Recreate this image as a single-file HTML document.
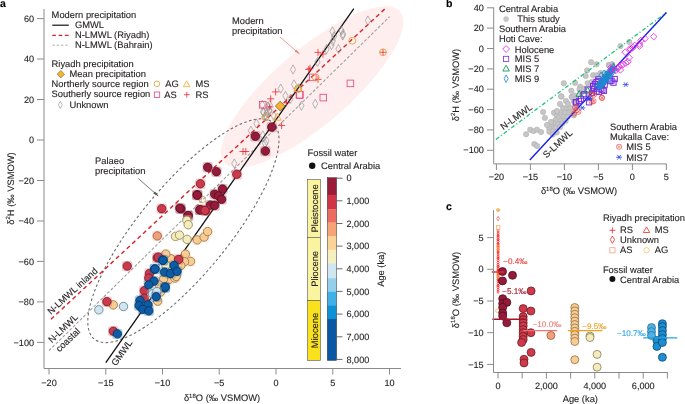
<!DOCTYPE html><html><head><meta charset="utf-8"><style>html,body{margin:0;padding:0;background:#fff;}svg{display:block;will-change:transform;}</style></head><body><svg width="685" height="404" viewBox="0 0 685 404" font-family="Liberation Sans, sans-serif" text-rendering="geometricPrecision">
<rect width="685" height="404" fill="#fff"/>
<ellipse cx="312.2" cy="86.9" rx="115.9" ry="37.6" transform="rotate(-40.7 312.2 86.9)" fill="#feeeee"/>
<ellipse cx="183.4" cy="230.7" rx="140.3" ry="44.4" transform="rotate(-50.5 183.4 230.7)" fill="none" stroke="#6d6d6d" stroke-width="1.1" stroke-dasharray="2.6 2.4"/>
<line x1="49" y1="350.6" x2="389.6" y2="16.7" stroke="#a0a0a0" stroke-width="1.1" stroke-dasharray="3 1.8"/>
<line x1="50.9" y1="319.3" x2="385.3" y2="8.5" stroke="#dd1f26" stroke-width="1.4" stroke-dasharray="4.2 3.2"/>
<line x1="105.8" y1="362.6" x2="353.8" y2="8.6" stroke="#111" stroke-width="1.3"/>
<path d="M367.9 15.9L370.5 20.5L367.9 25.1L365.3 20.5Z" fill="none" stroke="#8a8a8a" stroke-width="0.6"/>
<path d="M343.0 29.4L345.6 34.0L343.0 38.6L340.4 34.0Z" fill="none" stroke="#8a8a8a" stroke-width="0.6"/>
<path d="M341.5 25.9L344.1 30.5L341.5 35.1L338.9 30.5Z" fill="none" stroke="#8a8a8a" stroke-width="0.6"/>
<path d="M332.5 26.9L335.1 31.5L332.5 36.1L329.9 31.5Z" fill="none" stroke="#8a8a8a" stroke-width="0.6"/>
<path d="M334.1 31.5L336.7 36.1L334.1 40.7L331.5 36.1Z" fill="none" stroke="#8a8a8a" stroke-width="0.6"/>
<path d="M332.8 36.4L335.4 41.0L332.8 45.6L330.2 41.0Z" fill="none" stroke="#8a8a8a" stroke-width="0.6"/>
<path d="M331.5 40.4L334.1 45.0L331.5 49.6L328.9 45.0Z" fill="none" stroke="#8a8a8a" stroke-width="0.6"/>
<path d="M338.4 44.4L341.0 49.0L338.4 53.6L335.8 49.0Z" fill="none" stroke="#8a8a8a" stroke-width="0.6"/>
<path d="M326.6 44.4L329.2 49.0L326.6 53.6L324.0 49.0Z" fill="none" stroke="#8a8a8a" stroke-width="0.6"/>
<path d="M317.5 57.4L320.1 62.0L317.5 66.6L314.9 62.0Z" fill="none" stroke="#8a8a8a" stroke-width="0.6"/>
<path d="M293.0 64.9L295.6 69.5L293.0 74.1L290.4 69.5Z" fill="none" stroke="#8a8a8a" stroke-width="0.6"/>
<path d="M294.0 79.8L296.6 84.4L294.0 89.0L291.4 84.4Z" fill="none" stroke="#8a8a8a" stroke-width="0.6"/>
<path d="M298.9 83.7L301.5 88.3L298.9 92.9L296.3 88.3Z" fill="none" stroke="#8a8a8a" stroke-width="0.6"/>
<path d="M280.7 84.0L283.3 88.6L280.7 93.2L278.1 88.6Z" fill="none" stroke="#8a8a8a" stroke-width="0.6"/>
<path d="M285.5 91.2L288.1 95.8L285.5 100.4L282.9 95.8Z" fill="none" stroke="#8a8a8a" stroke-width="0.6"/>
<path d="M290.5 94.2L293.1 98.8L290.5 103.4L287.9 98.8Z" fill="none" stroke="#8a8a8a" stroke-width="0.6"/>
<path d="M301.4 101.1L304.0 105.7L301.4 110.3L298.8 105.7Z" fill="none" stroke="#8a8a8a" stroke-width="0.6"/>
<path d="M315.2 99.2L317.8 103.8L315.2 108.4L312.6 103.8Z" fill="none" stroke="#8a8a8a" stroke-width="0.6"/>
<path d="M267.7 102.1L270.3 106.7L267.7 111.3L265.1 106.7Z" fill="none" stroke="#8a8a8a" stroke-width="0.6"/>
<path d="M269.7 106.1L272.3 110.7L269.7 115.3L267.1 110.7Z" fill="none" stroke="#8a8a8a" stroke-width="0.6"/>
<path d="M263.8 108.1L266.4 112.7L263.8 117.3L261.2 112.7Z" fill="none" stroke="#8a8a8a" stroke-width="0.6"/>
<path d="M266.7 112.0L269.3 116.6L266.7 121.2L264.1 116.6Z" fill="none" stroke="#8a8a8a" stroke-width="0.6"/>
<path d="M256.4 118.9L259.0 123.5L256.4 128.1L253.8 123.5Z" fill="none" stroke="#8a8a8a" stroke-width="0.6"/>
<path d="M250.9 126.1L253.5 130.7L250.9 135.3L248.3 130.7Z" fill="none" stroke="#8a8a8a" stroke-width="0.6"/>
<path d="M262.8 130.8L265.4 135.4L262.8 140.0L260.2 135.4Z" fill="none" stroke="#8a8a8a" stroke-width="0.6"/>
<path d="M266.5 136.4L269.1 141.0L266.5 145.6L263.9 141.0Z" fill="none" stroke="#8a8a8a" stroke-width="0.6"/>
<path d="M265.0 138.9L267.6 143.5L265.0 148.1L262.4 143.5Z" fill="none" stroke="#8a8a8a" stroke-width="0.6"/>
<path d="M234.3 158.9L236.9 163.5L234.3 168.1L231.7 163.5Z" fill="none" stroke="#8a8a8a" stroke-width="0.6"/>
<path d="M342.7 30.9L345.3 35.5L342.7 40.1L340.1 35.5Z" fill="none" stroke="#8a8a8a" stroke-width="0.6"/>
<path d="M262.4 100.3L265.0 104.9L262.4 109.5L259.8 104.9Z" fill="none" stroke="#8a8a8a" stroke-width="0.6"/>
<path d="M269.8 100.3L272.4 104.9L269.8 109.5L267.2 104.9Z" fill="none" stroke="#8a8a8a" stroke-width="0.6"/>
<path d="M262.9 107.2L265.5 111.8L262.9 116.4L260.3 111.8Z" fill="none" stroke="#8a8a8a" stroke-width="0.6"/>
<path d="M266.8 108.2L269.4 112.8L266.8 117.4L264.2 112.8Z" fill="none" stroke="#8a8a8a" stroke-width="0.6"/>
<path d="M269.3 105.3L271.9 109.9L269.3 114.5L266.7 109.9Z" fill="none" stroke="#8a8a8a" stroke-width="0.6"/>
<path d="M264.9 112.2L267.5 116.8L264.9 121.4L262.3 116.8Z" fill="none" stroke="#8a8a8a" stroke-width="0.6"/>
<path d="M273.8 111.2L276.4 115.8L273.8 120.4L271.2 115.8Z" fill="none" stroke="#8a8a8a" stroke-width="0.6"/>
<path d="M314.5 52.4H321.5M318.0 48.9V55.9" stroke="#ee2a2e" stroke-width="0.8" fill="none"/>
<path d="M319.4 54.0H326.4M322.9 50.5V57.5" stroke="#ee2a2e" stroke-width="0.8" fill="none"/>
<path d="M305.3 69.5H312.3M308.8 66.0V73.0" stroke="#ee2a2e" stroke-width="0.8" fill="none"/>
<path d="M314.5 79.4H321.5M318.0 75.9V82.9" stroke="#ee2a2e" stroke-width="0.8" fill="none"/>
<path d="M272.1 91.9H279.1M275.6 88.4V95.4" stroke="#ee2a2e" stroke-width="0.8" fill="none"/>
<path d="M267.2 98.8H274.2M270.7 95.3V102.3" stroke="#ee2a2e" stroke-width="0.8" fill="none"/>
<path d="M283.0 102.8H290.0M286.5 99.3V106.3" stroke="#ee2a2e" stroke-width="0.8" fill="none"/>
<path d="M278.1 125.5H285.1M281.6 122.0V129.0" stroke="#ee2a2e" stroke-width="0.8" fill="none"/>
<path d="M239.5 151.5H246.5M243.0 148.0V155.0" stroke="#ee2a2e" stroke-width="0.8" fill="none"/>
<path d="M242.3 151.5H249.3M245.8 148.0V155.0" stroke="#ee2a2e" stroke-width="0.8" fill="none"/>
<path d="M306.5 68.3H313.5M310.0 64.8V71.8" stroke="#ee2a2e" stroke-width="0.8" fill="none"/>
<path d="M379.5 52.3H386.5M383.0 48.8V55.8" stroke="#ee2a2e" stroke-width="0.8" fill="none"/>
<path d="M266.3 106.9H273.3M269.8 103.4V110.4" stroke="#ee2a2e" stroke-width="0.8" fill="none"/>
<rect x="309.5" y="74.1" width="6.6" height="6.6" fill="none" stroke="#e8407e" stroke-width="0.8"/>
<rect x="347.1" y="80.1" width="6.6" height="6.6" fill="none" stroke="#e8407e" stroke-width="0.8"/>
<rect x="320.0" y="94.3" width="6.6" height="6.6" fill="none" stroke="#e8407e" stroke-width="0.8"/>
<rect x="296.6" y="91.6" width="6.6" height="6.6" fill="none" stroke="#e8407e" stroke-width="0.8"/>
<rect x="259.5" y="101.5" width="6.6" height="6.6" fill="none" stroke="#e8407e" stroke-width="0.8"/>
<rect x="296.1" y="91.6" width="6.6" height="6.6" fill="none" stroke="#e8407e" stroke-width="0.8"/>
<circle cx="352.3" cy="40.8" r="3.4" fill="none" stroke="#d8a030" stroke-width="0.8"/>
<circle cx="315.7" cy="77.4" r="3.4" fill="none" stroke="#d8a030" stroke-width="0.8"/>
<circle cx="265.3" cy="117.2" r="3.4" fill="none" stroke="#d8a030" stroke-width="0.8"/>
<circle cx="383.0" cy="52.3" r="3.4" fill="none" stroke="#d8a030" stroke-width="0.8"/>
<circle cx="298.0" cy="89.0" r="3.4" fill="none" stroke="#d8a030" stroke-width="0.8"/>
<circle cx="202.2" cy="199.4" r="3.4" fill="none" stroke="#d8a030" stroke-width="0.8"/>
<path d="M297.9 84.3L301.9 91.3L293.9 91.3Z" fill="none" stroke="#f5a623" stroke-width="0.8"/>
<path d="M277.2 113.2L281.2 120.2L273.2 120.2Z" fill="none" stroke="#f5a623" stroke-width="0.8"/>
<path d="M280.2 101.3L285.1 106.1L280.2 110.9L275.3 106.1Z" fill="#f4b535" stroke="#5a4010" stroke-width="0.6"/>
<rect x="152.1" y="230.7" width="10.4" height="10.4" rx="2.6" fill="#f2a07a" fill-opacity="0.28"/>
<circle cx="157.3" cy="235.9" r="4.2" fill="#f2a07a" stroke="#8a5535" stroke-width="0.75"/>
<rect x="170.3" y="231.2" width="10.4" height="10.4" rx="2.6" fill="#f4ecbd" fill-opacity="0.28"/>
<circle cx="175.5" cy="236.4" r="4.2" fill="#f4ecbd" stroke="#7f7852" stroke-width="0.75"/>
<rect x="174.3" y="229.9" width="10.4" height="10.4" rx="2.6" fill="#f4ecbd" fill-opacity="0.28"/>
<circle cx="179.5" cy="235.1" r="4.2" fill="#f4ecbd" stroke="#7f7852" stroke-width="0.75"/>
<rect x="181.9" y="234.2" width="10.4" height="10.4" rx="2.6" fill="#f4ecbd" fill-opacity="0.28"/>
<circle cx="187.1" cy="239.4" r="4.2" fill="#f4ecbd" stroke="#7f7852" stroke-width="0.75"/>
<rect x="192.0" y="234.7" width="10.4" height="10.4" rx="2.6" fill="#f8cc92" fill-opacity="0.28"/>
<circle cx="197.2" cy="239.9" r="4.2" fill="#f8cc92" stroke="#8d6c42" stroke-width="0.75"/>
<rect x="198.9" y="231.9" width="10.4" height="10.4" rx="2.6" fill="#f8cc92" fill-opacity="0.28"/>
<circle cx="204.1" cy="237.1" r="4.2" fill="#f8cc92" stroke="#8d6c42" stroke-width="0.75"/>
<rect x="202.4" y="226.4" width="10.4" height="10.4" rx="2.6" fill="#f8cc92" fill-opacity="0.28"/>
<circle cx="207.6" cy="231.6" r="4.2" fill="#f8cc92" stroke="#8d6c42" stroke-width="0.75"/>
<rect x="180.2" y="248.9" width="10.4" height="10.4" rx="2.6" fill="#f8cc92" fill-opacity="0.28"/>
<circle cx="185.4" cy="254.1" r="4.2" fill="#f8cc92" stroke="#8d6c42" stroke-width="0.75"/>
<rect x="185.3" y="256.2" width="10.4" height="10.4" rx="2.6" fill="#f8cc92" fill-opacity="0.28"/>
<circle cx="190.5" cy="261.4" r="4.2" fill="#f8cc92" stroke="#8d6c42" stroke-width="0.75"/>
<rect x="179.3" y="256.5" width="10.4" height="10.4" rx="2.6" fill="#f8cc92" fill-opacity="0.28"/>
<circle cx="184.5" cy="261.7" r="4.2" fill="#f8cc92" stroke="#8d6c42" stroke-width="0.75"/>
<rect x="175.6" y="260.3" width="10.4" height="10.4" rx="2.6" fill="#f8cc92" fill-opacity="0.28"/>
<circle cx="180.8" cy="265.5" r="4.2" fill="#f8cc92" stroke="#8d6c42" stroke-width="0.75"/>
<rect x="165.9" y="253.6" width="10.4" height="10.4" rx="2.6" fill="#f8cc92" fill-opacity="0.28"/>
<circle cx="171.1" cy="258.8" r="4.2" fill="#f8cc92" stroke="#8d6c42" stroke-width="0.75"/>
<rect x="160.6" y="248.9" width="10.4" height="10.4" rx="2.6" fill="#f8cc92" fill-opacity="0.28"/>
<circle cx="165.8" cy="254.1" r="4.2" fill="#f8cc92" stroke="#8d6c42" stroke-width="0.75"/>
<rect x="160.8" y="260.3" width="10.4" height="10.4" rx="2.6" fill="#f4ecbd" fill-opacity="0.28"/>
<circle cx="166.0" cy="265.5" r="4.2" fill="#f4ecbd" stroke="#7f7852" stroke-width="0.75"/>
<rect x="163.7" y="274.4" width="10.4" height="10.4" rx="2.6" fill="#f8cc92" fill-opacity="0.28"/>
<circle cx="168.9" cy="279.6" r="4.2" fill="#f8cc92" stroke="#8d6c42" stroke-width="0.75"/>
<rect x="169.7" y="272.9" width="10.4" height="10.4" rx="2.6" fill="#f8cc92" fill-opacity="0.28"/>
<circle cx="174.9" cy="278.1" r="4.2" fill="#f8cc92" stroke="#8d6c42" stroke-width="0.75"/>
<rect x="171.0" y="271.2" width="10.4" height="10.4" rx="2.6" fill="#f8cc92" fill-opacity="0.28"/>
<circle cx="176.2" cy="276.4" r="4.2" fill="#f8cc92" stroke="#8d6c42" stroke-width="0.75"/>
<rect x="158.4" y="273.7" width="10.4" height="10.4" rx="2.6" fill="#f8cc92" fill-opacity="0.28"/>
<circle cx="163.6" cy="278.9" r="4.2" fill="#f8cc92" stroke="#8d6c42" stroke-width="0.75"/>
<rect x="154.0" y="279.7" width="10.4" height="10.4" rx="2.6" fill="#f8cc92" fill-opacity="0.28"/>
<circle cx="159.2" cy="284.9" r="4.2" fill="#f8cc92" stroke="#8d6c42" stroke-width="0.75"/>
<rect x="155.4" y="286.8" width="10.4" height="10.4" rx="2.6" fill="#f8cc92" fill-opacity="0.28"/>
<circle cx="160.6" cy="292.0" r="4.2" fill="#f8cc92" stroke="#8d6c42" stroke-width="0.75"/>
<rect x="152.5" y="296.0" width="10.4" height="10.4" rx="2.6" fill="#f8cc92" fill-opacity="0.28"/>
<circle cx="157.7" cy="301.2" r="4.2" fill="#f8cc92" stroke="#8d6c42" stroke-width="0.75"/>
<rect x="108.1" y="299.7" width="10.4" height="10.4" rx="2.6" fill="#f8cc92" fill-opacity="0.28"/>
<circle cx="113.3" cy="304.9" r="4.2" fill="#f8cc92" stroke="#8d6c42" stroke-width="0.75"/>
<rect x="266.6" y="121.9" width="10.4" height="10.4" rx="2.6" fill="#961a3a" fill-opacity="0.28"/>
<circle cx="271.8" cy="127.1" r="4.2" fill="#961a3a" stroke="#4b0e1c" stroke-width="0.75"/>
<rect x="250.2" y="131.1" width="10.4" height="10.4" rx="2.6" fill="#961a3a" fill-opacity="0.28"/>
<circle cx="255.4" cy="136.3" r="4.2" fill="#961a3a" stroke="#4b0e1c" stroke-width="0.75"/>
<rect x="260.1" y="145.9" width="10.4" height="10.4" rx="2.6" fill="#961a3a" fill-opacity="0.28"/>
<circle cx="265.3" cy="151.1" r="4.2" fill="#961a3a" stroke="#4b0e1c" stroke-width="0.75"/>
<rect x="202.5" y="162.1" width="10.4" height="10.4" rx="2.6" fill="#961a3a" fill-opacity="0.28"/>
<circle cx="207.7" cy="167.3" r="4.2" fill="#961a3a" stroke="#4b0e1c" stroke-width="0.75"/>
<rect x="211.2" y="166.5" width="10.4" height="10.4" rx="2.6" fill="#961a3a" fill-opacity="0.28"/>
<circle cx="216.4" cy="171.7" r="4.2" fill="#961a3a" stroke="#4b0e1c" stroke-width="0.75"/>
<rect x="231.6" y="169.1" width="10.4" height="10.4" rx="2.6" fill="#cd3a4b" fill-opacity="0.28"/>
<circle cx="236.8" cy="174.3" r="4.2" fill="#cd3a4b" stroke="#6b1722" stroke-width="0.75"/>
<rect x="195.2" y="178.6" width="10.4" height="10.4" rx="2.6" fill="#cd3a4b" fill-opacity="0.28"/>
<circle cx="200.4" cy="183.8" r="4.2" fill="#cd3a4b" stroke="#6b1722" stroke-width="0.75"/>
<rect x="192.1" y="189.5" width="10.4" height="10.4" rx="2.6" fill="#961a3a" fill-opacity="0.28"/>
<circle cx="197.3" cy="194.7" r="4.2" fill="#961a3a" stroke="#4b0e1c" stroke-width="0.75"/>
<rect x="217.3" y="183.8" width="10.4" height="10.4" rx="2.6" fill="#961a3a" fill-opacity="0.28"/>
<circle cx="222.5" cy="189.0" r="4.2" fill="#961a3a" stroke="#4b0e1c" stroke-width="0.75"/>
<rect x="209.5" y="189.0" width="10.4" height="10.4" rx="2.6" fill="#961a3a" fill-opacity="0.28"/>
<circle cx="214.7" cy="194.2" r="4.2" fill="#961a3a" stroke="#4b0e1c" stroke-width="0.75"/>
<rect x="213.3" y="190.7" width="10.4" height="10.4" rx="2.6" fill="#961a3a" fill-opacity="0.28"/>
<circle cx="218.5" cy="195.9" r="4.2" fill="#961a3a" stroke="#4b0e1c" stroke-width="0.75"/>
<rect x="216.4" y="194.2" width="10.4" height="10.4" rx="2.6" fill="#961a3a" fill-opacity="0.28"/>
<circle cx="221.6" cy="199.4" r="4.2" fill="#961a3a" stroke="#4b0e1c" stroke-width="0.75"/>
<rect x="205.1" y="199.9" width="10.4" height="10.4" rx="2.6" fill="#961a3a" fill-opacity="0.28"/>
<circle cx="210.3" cy="205.1" r="4.2" fill="#961a3a" stroke="#4b0e1c" stroke-width="0.75"/>
<rect x="209.5" y="200.3" width="10.4" height="10.4" rx="2.6" fill="#961a3a" fill-opacity="0.28"/>
<circle cx="214.7" cy="205.5" r="4.2" fill="#961a3a" stroke="#4b0e1c" stroke-width="0.75"/>
<rect x="195.2" y="204.6" width="10.4" height="10.4" rx="2.6" fill="#961a3a" fill-opacity="0.28"/>
<circle cx="200.4" cy="209.8" r="4.2" fill="#961a3a" stroke="#4b0e1c" stroke-width="0.75"/>
<rect x="200.4" y="205.5" width="10.4" height="10.4" rx="2.6" fill="#cd3a4b" fill-opacity="0.28"/>
<circle cx="205.6" cy="210.7" r="4.2" fill="#cd3a4b" stroke="#6b1722" stroke-width="0.75"/>
<rect x="192.0" y="190.0" width="10.4" height="10.4" rx="2.6" fill="#961a3a" fill-opacity="0.28"/>
<circle cx="197.2" cy="195.2" r="4.2" fill="#961a3a" stroke="#4b0e1c" stroke-width="0.75"/>
<rect x="194.6" y="204.7" width="10.4" height="10.4" rx="2.6" fill="#961a3a" fill-opacity="0.28"/>
<circle cx="199.8" cy="209.9" r="4.2" fill="#961a3a" stroke="#4b0e1c" stroke-width="0.75"/>
<rect x="199.8" y="205.3" width="10.4" height="10.4" rx="2.6" fill="#cd3a4b" fill-opacity="0.28"/>
<circle cx="205.0" cy="210.5" r="4.2" fill="#cd3a4b" stroke="#6b1722" stroke-width="0.75"/>
<rect x="175.7" y="203.7" width="10.4" height="10.4" rx="2.6" fill="#961a3a" fill-opacity="0.28"/>
<circle cx="180.9" cy="208.9" r="4.2" fill="#961a3a" stroke="#4b0e1c" stroke-width="0.75"/>
<rect x="182.6" y="210.7" width="10.4" height="10.4" rx="2.6" fill="#961a3a" fill-opacity="0.28"/>
<circle cx="187.8" cy="215.9" r="4.2" fill="#961a3a" stroke="#4b0e1c" stroke-width="0.75"/>
<rect x="156.5" y="203.5" width="10.4" height="10.4" rx="2.6" fill="#cd3a4b" fill-opacity="0.28"/>
<circle cx="161.7" cy="208.7" r="4.2" fill="#cd3a4b" stroke="#6b1722" stroke-width="0.75"/>
<rect x="174.7" y="203.0" width="10.4" height="10.4" rx="2.6" fill="#961a3a" fill-opacity="0.28"/>
<circle cx="179.9" cy="208.2" r="4.2" fill="#961a3a" stroke="#4b0e1c" stroke-width="0.75"/>
<rect x="183.0" y="210.4" width="10.4" height="10.4" rx="2.6" fill="#961a3a" fill-opacity="0.28"/>
<circle cx="188.2" cy="215.6" r="4.2" fill="#961a3a" stroke="#4b0e1c" stroke-width="0.75"/>
<rect x="122.0" y="260.9" width="10.4" height="10.4" rx="2.6" fill="#cd3a4b" fill-opacity="0.28"/>
<circle cx="127.2" cy="266.1" r="4.2" fill="#cd3a4b" stroke="#6b1722" stroke-width="0.75"/>
<rect x="152.0" y="252.7" width="10.4" height="10.4" rx="2.6" fill="#cd3a4b" fill-opacity="0.28"/>
<circle cx="157.2" cy="257.9" r="4.2" fill="#cd3a4b" stroke="#6b1722" stroke-width="0.75"/>
<rect x="153.2" y="251.9" width="10.4" height="10.4" rx="2.6" fill="#cd3a4b" fill-opacity="0.28"/>
<circle cx="158.4" cy="257.1" r="4.2" fill="#cd3a4b" stroke="#6b1722" stroke-width="0.75"/>
<rect x="173.4" y="254.3" width="10.4" height="10.4" rx="2.6" fill="#cd3a4b" fill-opacity="0.28"/>
<circle cx="178.6" cy="259.5" r="4.2" fill="#cd3a4b" stroke="#6b1722" stroke-width="0.75"/>
<rect x="144.3" y="268.2" width="10.4" height="10.4" rx="2.6" fill="#cd3a4b" fill-opacity="0.28"/>
<circle cx="149.5" cy="273.4" r="4.2" fill="#cd3a4b" stroke="#6b1722" stroke-width="0.75"/>
<rect x="143.6" y="273.0" width="10.4" height="10.4" rx="2.6" fill="#cd3a4b" fill-opacity="0.28"/>
<circle cx="148.8" cy="278.2" r="4.2" fill="#cd3a4b" stroke="#6b1722" stroke-width="0.75"/>
<rect x="139.1" y="285.6" width="10.4" height="10.4" rx="2.6" fill="#cd3a4b" fill-opacity="0.28"/>
<circle cx="144.3" cy="290.8" r="4.2" fill="#cd3a4b" stroke="#6b1722" stroke-width="0.75"/>
<rect x="139.1" y="293.0" width="10.4" height="10.4" rx="2.6" fill="#cd3a4b" fill-opacity="0.28"/>
<circle cx="144.3" cy="298.2" r="4.2" fill="#cd3a4b" stroke="#6b1722" stroke-width="0.75"/>
<rect x="101.7" y="296.5" width="10.4" height="10.4" rx="2.6" fill="#cd3a4b" fill-opacity="0.28"/>
<circle cx="106.9" cy="301.7" r="4.2" fill="#cd3a4b" stroke="#6b1722" stroke-width="0.75"/>
<rect x="108.1" y="326.0" width="10.4" height="10.4" rx="2.6" fill="#cd3a4b" fill-opacity="0.28"/>
<circle cx="113.3" cy="331.2" r="4.2" fill="#cd3a4b" stroke="#6b1722" stroke-width="0.75"/>
<rect x="181.6" y="215.1" width="10.4" height="10.4" rx="2.6" fill="#f4ecbd" fill-opacity="0.28"/>
<circle cx="186.8" cy="220.3" r="4.2" fill="#f4ecbd" stroke="#7f7852" stroke-width="0.75"/>
<rect x="183.0" y="219.5" width="10.4" height="10.4" rx="2.6" fill="#f4ecbd" fill-opacity="0.28"/>
<circle cx="188.2" cy="224.7" r="4.2" fill="#f4ecbd" stroke="#7f7852" stroke-width="0.75"/>
<rect x="157.6" y="254.9" width="10.4" height="10.4" rx="2.6" fill="#0c5ca7" fill-opacity="0.28"/>
<circle cx="162.8" cy="260.1" r="4.2" fill="#0c5ca7" stroke="#062d52" stroke-width="0.75"/>
<rect x="157.8" y="255.1" width="10.4" height="10.4" rx="2.6" fill="#0c5ca7" fill-opacity="0.28"/>
<circle cx="163.0" cy="260.3" r="4.2" fill="#0c5ca7" stroke="#062d52" stroke-width="0.75"/>
<rect x="168.9" y="260.3" width="10.4" height="10.4" rx="2.6" fill="#0c5ca7" fill-opacity="0.28"/>
<circle cx="174.1" cy="265.5" r="4.2" fill="#0c5ca7" stroke="#062d52" stroke-width="0.75"/>
<rect x="159.3" y="266.9" width="10.4" height="10.4" rx="2.6" fill="#0c5ca7" fill-opacity="0.28"/>
<circle cx="164.5" cy="272.1" r="4.2" fill="#0c5ca7" stroke="#062d52" stroke-width="0.75"/>
<rect x="165.2" y="268.4" width="10.4" height="10.4" rx="2.6" fill="#0c5ca7" fill-opacity="0.28"/>
<circle cx="170.4" cy="273.6" r="4.2" fill="#0c5ca7" stroke="#062d52" stroke-width="0.75"/>
<rect x="171.9" y="266.2" width="10.4" height="10.4" rx="2.6" fill="#0c5ca7" fill-opacity="0.28"/>
<circle cx="177.1" cy="271.4" r="4.2" fill="#0c5ca7" stroke="#062d52" stroke-width="0.75"/>
<rect x="149.5" y="263.8" width="10.4" height="10.4" rx="2.6" fill="#0c5ca7" fill-opacity="0.28"/>
<circle cx="154.7" cy="269.0" r="4.2" fill="#0c5ca7" stroke="#062d52" stroke-width="0.75"/>
<rect x="149.8" y="263.8" width="10.4" height="10.4" rx="2.6" fill="#0c5ca7" fill-opacity="0.28"/>
<circle cx="155.0" cy="269.0" r="4.2" fill="#0c5ca7" stroke="#062d52" stroke-width="0.75"/>
<rect x="148.8" y="275.9" width="10.4" height="10.4" rx="2.6" fill="#0c5ca7" fill-opacity="0.28"/>
<circle cx="154.0" cy="281.1" r="4.2" fill="#0c5ca7" stroke="#062d52" stroke-width="0.75"/>
<rect x="143.6" y="279.7" width="10.4" height="10.4" rx="2.6" fill="#0c5ca7" fill-opacity="0.28"/>
<circle cx="148.8" cy="284.9" r="4.2" fill="#0c5ca7" stroke="#062d52" stroke-width="0.75"/>
<rect x="159.6" y="282.6" width="10.4" height="10.4" rx="2.6" fill="#0c5ca7" fill-opacity="0.28"/>
<circle cx="164.8" cy="287.8" r="4.2" fill="#0c5ca7" stroke="#062d52" stroke-width="0.75"/>
<rect x="160.0" y="281.8" width="10.4" height="10.4" rx="2.6" fill="#0c5ca7" fill-opacity="0.28"/>
<circle cx="165.2" cy="287.0" r="4.2" fill="#0c5ca7" stroke="#062d52" stroke-width="0.75"/>
<rect x="134.7" y="295.3" width="10.4" height="10.4" rx="2.6" fill="#0c5ca7" fill-opacity="0.28"/>
<circle cx="139.9" cy="300.5" r="4.2" fill="#0c5ca7" stroke="#062d52" stroke-width="0.75"/>
<rect x="133.9" y="300.5" width="10.4" height="10.4" rx="2.6" fill="#0c5ca7" fill-opacity="0.28"/>
<circle cx="139.1" cy="305.7" r="4.2" fill="#0c5ca7" stroke="#062d52" stroke-width="0.75"/>
<rect x="142.8" y="299.7" width="10.4" height="10.4" rx="2.6" fill="#0c5ca7" fill-opacity="0.28"/>
<circle cx="148.0" cy="304.9" r="4.2" fill="#0c5ca7" stroke="#062d52" stroke-width="0.75"/>
<rect x="137.6" y="304.2" width="10.4" height="10.4" rx="2.6" fill="#0c5ca7" fill-opacity="0.28"/>
<circle cx="142.8" cy="309.4" r="4.2" fill="#0c5ca7" stroke="#062d52" stroke-width="0.75"/>
<rect x="143.6" y="305.7" width="10.4" height="10.4" rx="2.6" fill="#0c5ca7" fill-opacity="0.28"/>
<circle cx="148.8" cy="310.9" r="4.2" fill="#0c5ca7" stroke="#062d52" stroke-width="0.75"/>
<rect x="112.2" y="328.7" width="10.4" height="10.4" rx="2.6" fill="#0c5ca7" fill-opacity="0.28"/>
<circle cx="117.4" cy="333.9" r="4.2" fill="#0c5ca7" stroke="#062d52" stroke-width="0.75"/>
<rect x="147.3" y="288.6" width="10.4" height="10.4" rx="2.6" fill="#cfe6f0" fill-opacity="0.28"/>
<circle cx="152.5" cy="293.8" r="4.2" fill="#cfe6f0" stroke="#5f7480" stroke-width="0.75"/>
<rect x="151.6" y="286.4" width="10.4" height="10.4" rx="2.6" fill="#cfe6f0" fill-opacity="0.28"/>
<circle cx="156.8" cy="291.6" r="4.2" fill="#cfe6f0" stroke="#5f7480" stroke-width="0.75"/>
<rect x="93.6" y="304.6" width="10.4" height="10.4" rx="2.6" fill="#cfe6f0" fill-opacity="0.28"/>
<circle cx="98.8" cy="309.8" r="4.2" fill="#cfe6f0" stroke="#5f7480" stroke-width="0.75"/>
<rect x="118.3" y="301.3" width="10.4" height="10.4" rx="2.6" fill="#cfe6f0" fill-opacity="0.28"/>
<circle cx="123.5" cy="306.5" r="4.2" fill="#cfe6f0" stroke="#5f7480" stroke-width="0.75"/>
<rect x="151.0" y="291.5" width="10.4" height="10.4" rx="2.6" fill="#0c5ca7" fill-opacity="0.28"/>
<circle cx="156.2" cy="296.7" r="4.2" fill="#0c5ca7" stroke="#062d52" stroke-width="0.75"/>
<path d="M44 9V368.5H401" fill="none" stroke="#8a8a8a" stroke-width="1"/>
<line x1="37" y1="18.6" x2="44" y2="18.6" stroke="#8a8a8a" stroke-width="1"/>
<text transform="translate(34.0 21.7)" font-size="9.1" text-anchor="end" fill="#231f20" stroke="#231f20" stroke-width="0.12" >60</text>
<line x1="37" y1="59.0" x2="44" y2="59.0" stroke="#8a8a8a" stroke-width="1"/>
<text transform="translate(34.0 62.1)" font-size="9.1" text-anchor="end" fill="#231f20" stroke="#231f20" stroke-width="0.12" >40</text>
<line x1="37" y1="99.5" x2="44" y2="99.5" stroke="#8a8a8a" stroke-width="1"/>
<text transform="translate(34.0 102.6)" font-size="9.1" text-anchor="end" fill="#231f20" stroke="#231f20" stroke-width="0.12" >20</text>
<line x1="37" y1="140.0" x2="44" y2="140.0" stroke="#8a8a8a" stroke-width="1"/>
<text transform="translate(34.0 143.1)" font-size="9.1" text-anchor="end" fill="#231f20" stroke="#231f20" stroke-width="0.12" >0</text>
<line x1="37" y1="180.5" x2="44" y2="180.5" stroke="#8a8a8a" stroke-width="1"/>
<text transform="translate(34.0 183.6)" font-size="9.1" text-anchor="end" fill="#231f20" stroke="#231f20" stroke-width="0.12" >−20</text>
<line x1="37" y1="221.0" x2="44" y2="221.0" stroke="#8a8a8a" stroke-width="1"/>
<text transform="translate(34.0 224.1)" font-size="9.1" text-anchor="end" fill="#231f20" stroke="#231f20" stroke-width="0.12" >−40</text>
<line x1="37" y1="261.4" x2="44" y2="261.4" stroke="#8a8a8a" stroke-width="1"/>
<text transform="translate(34.0 264.5)" font-size="9.1" text-anchor="end" fill="#231f20" stroke="#231f20" stroke-width="0.12" >−60</text>
<line x1="37" y1="301.9" x2="44" y2="301.9" stroke="#8a8a8a" stroke-width="1"/>
<text transform="translate(34.0 305.0)" font-size="9.1" text-anchor="end" fill="#231f20" stroke="#231f20" stroke-width="0.12" >−80</text>
<line x1="37" y1="342.4" x2="44" y2="342.4" stroke="#8a8a8a" stroke-width="1"/>
<text transform="translate(34.0 345.5)" font-size="9.1" text-anchor="end" fill="#231f20" stroke="#231f20" stroke-width="0.12" >−100</text>
<line x1="49.0" y1="368.5" x2="49.0" y2="374.5" stroke="#8a8a8a" stroke-width="1"/>
<text transform="translate(49.0 385.5)" font-size="9.1" text-anchor="middle" fill="#231f20" stroke="#231f20" stroke-width="0.12" >−20</text>
<line x1="105.8" y1="368.5" x2="105.8" y2="374.5" stroke="#8a8a8a" stroke-width="1"/>
<text transform="translate(105.8 385.5)" font-size="9.1" text-anchor="middle" fill="#231f20" stroke="#231f20" stroke-width="0.12" >−15</text>
<line x1="162.5" y1="368.5" x2="162.5" y2="374.5" stroke="#8a8a8a" stroke-width="1"/>
<text transform="translate(162.5 385.5)" font-size="9.1" text-anchor="middle" fill="#231f20" stroke="#231f20" stroke-width="0.12" >−10</text>
<line x1="219.2" y1="368.5" x2="219.2" y2="374.5" stroke="#8a8a8a" stroke-width="1"/>
<text transform="translate(219.2 385.5)" font-size="9.1" text-anchor="middle" fill="#231f20" stroke="#231f20" stroke-width="0.12" >−5</text>
<line x1="276.0" y1="368.5" x2="276.0" y2="374.5" stroke="#8a8a8a" stroke-width="1"/>
<text transform="translate(276.0 385.5)" font-size="9.1" text-anchor="middle" fill="#231f20" stroke="#231f20" stroke-width="0.12" >0</text>
<line x1="332.8" y1="368.5" x2="332.8" y2="374.5" stroke="#8a8a8a" stroke-width="1"/>
<text transform="translate(332.8 385.5)" font-size="9.1" text-anchor="middle" fill="#231f20" stroke="#231f20" stroke-width="0.12" >5</text>
<line x1="389.5" y1="368.5" x2="389.5" y2="374.5" stroke="#8a8a8a" stroke-width="1"/>
<text transform="translate(389.5 385.5)" font-size="9.1" text-anchor="middle" fill="#231f20" stroke="#231f20" stroke-width="0.12" >10</text>
<text transform="translate(222.0 401.2)" font-size="9.35" text-anchor="middle" fill="#231f20" stroke="#231f20" stroke-width="0.12" >δ<tspan font-size="6" dy="-3.5">18</tspan><tspan dy="3.5">O (‰ VSMOW)</tspan></text>
<text transform="translate(13.5 188.5) rotate(-90)" font-size="9.35" text-anchor="middle" fill="#231f20" stroke="#231f20" stroke-width="0.12" >δ<tspan font-size="6" dy="-3.5">2</tspan><tspan dy="3.5">H (‰ VSMOW)</tspan></text>
<text transform="translate(0.0 6.8)" font-size="10.5" text-anchor="start" fill="#000" stroke="#000" stroke-width="0.12" font-weight="bold">a</text>
<text transform="translate(51.6 18.0)" font-size="9.35" text-anchor="start" fill="#231f20" stroke="#231f20" stroke-width="0.12" >Modern precipitation</text>
<line x1="52.3" y1="25.2" x2="68.8" y2="25.2" stroke="#111" stroke-width="1.2"/>
<text transform="translate(75.0 27.9)" font-size="9.35" text-anchor="start" fill="#231f20" stroke="#231f20" stroke-width="0.12" >GMWL</text>
<line x1="52.3" y1="35.3" x2="68.8" y2="35.3" stroke="#dd1f26" stroke-width="1.3" stroke-dasharray="3.6 2.7"/>
<text transform="translate(75.0 38.0)" font-size="9.35" text-anchor="start" fill="#231f20" stroke="#231f20" stroke-width="0.12" >N-LMWL (Riyadh)</text>
<line x1="52.3" y1="45.2" x2="68.8" y2="45.2" stroke="#b4b4b4" stroke-width="1" stroke-dasharray="2.7 1.6"/>
<text transform="translate(75.0 47.9)" font-size="9.35" text-anchor="start" fill="#231f20" stroke="#231f20" stroke-width="0.12" >N-LMWL (Bahrain)</text>
<text transform="translate(51.6 66.5)" font-size="9.35" text-anchor="start" fill="#231f20" stroke="#231f20" stroke-width="0.12" >Riyadh precipitation</text>
<path d="M60.8 70.5L64.5 74.2L60.8 77.9L57.1 74.2Z" fill="#f4b535" stroke="#5a4010" stroke-width="0.5"/>
<text transform="translate(69.5 77.0)" font-size="9.35" text-anchor="start" fill="#231f20" stroke="#231f20" stroke-width="0.12" >Mean precipitation</text>
<text transform="translate(51.6 86.8)" font-size="9.35" text-anchor="start" fill="#231f20" stroke="#231f20" stroke-width="0.12" >Northerly source region</text>
<circle cx="156.9" cy="83.8" r="2.8" fill="none" stroke="#d8a030" stroke-width="0.8"/>
<text transform="translate(165.3 86.9)" font-size="9.35" text-anchor="start" fill="#231f20" stroke="#231f20" stroke-width="0.12" >AG</text>
<path d="M186.6 80.9L189.9 86.7L183.3 86.7Z" fill="none" stroke="#f5a623" stroke-width="0.8"/>
<text transform="translate(195.5 86.9)" font-size="9.35" text-anchor="start" fill="#231f20" stroke="#231f20" stroke-width="0.12" >MS</text>
<text transform="translate(51.6 97.3)" font-size="9.35" text-anchor="start" fill="#231f20" stroke="#231f20" stroke-width="0.12" >Southerly source region</text>
<rect x="154.3" y="92.0" width="5.4" height="5.4" fill="none" stroke="#e8407e" stroke-width="0.8"/>
<text transform="translate(164.3 97.6)" font-size="9.35" text-anchor="start" fill="#231f20" stroke="#231f20" stroke-width="0.12" >AS</text>
<path d="M183.9 94.7H189.7M186.8 91.8V97.6" stroke="#ee2a2e" stroke-width="0.8" fill="none"/>
<text transform="translate(195.5 97.6)" font-size="9.35" text-anchor="start" fill="#231f20" stroke="#231f20" stroke-width="0.12" >RS</text>
<path d="M60.3 101.2L62.2 104.8L60.3 108.4L58.4 104.8Z" fill="none" stroke="#8a8a8a" stroke-width="0.6"/>
<text transform="translate(69.5 107.8)" font-size="9.35" text-anchor="start" fill="#231f20" stroke="#231f20" stroke-width="0.12" >Unknown</text>
<text transform="translate(232.0 23.5)" font-size="9.35" text-anchor="start" fill="#231f20" stroke="#231f20" stroke-width="0.12" >Modern</text>
<text transform="translate(232.0 34.3)" font-size="9.35" text-anchor="start" fill="#231f20" stroke="#231f20" stroke-width="0.12" >precipitation</text>
<line x1="280" y1="37" x2="299" y2="53.5" stroke="#f08080" stroke-width="0.8"/>
<path d="M296.3 49.6L300 54.3L294.6 51.6Z" fill="#f08080"/>
<text transform="translate(95.0 163.6)" font-size="9.35" text-anchor="start" fill="#231f20" stroke="#231f20" stroke-width="0.12" >Palaeo</text>
<text transform="translate(95.0 174.0)" font-size="9.35" text-anchor="start" fill="#231f20" stroke="#231f20" stroke-width="0.12" >precipitation</text>
<line x1="138.3" y1="178.5" x2="158" y2="195.8" stroke="#555" stroke-width="0.8"/>
<path d="M155 191.6L158.8 196.4L153.3 193.6Z" fill="#555"/>
<text transform="translate(51.0 315.0) rotate(-42.5)" font-size="9.35" text-anchor="start" fill="#231f20" stroke="#231f20" stroke-width="0.12" >N-LMWL inland</text>
<text transform="translate(52.0 343.5) rotate(-44)" font-size="9.35" text-anchor="start" fill="#231f20" stroke="#231f20" stroke-width="0.12" >N-LMWL</text>
<text transform="translate(59.5 352.5) rotate(-44)" font-size="9.35" text-anchor="start" fill="#231f20" stroke="#231f20" stroke-width="0.12" >coastal</text>
<text transform="translate(116.0 366.5) rotate(-54.5)" font-size="9.35" text-anchor="start" fill="#231f20" stroke="#231f20" stroke-width="0.12" >GMWL</text>
<text transform="translate(307.5 155.7)" font-size="9.35" text-anchor="start" fill="#231f20" stroke="#231f20" stroke-width="0.12" >Fossil water</text>
<circle cx="312.2" cy="165.8" r="3.2" fill="#111"/>
<text transform="translate(321.0 168.8)" font-size="9.35" text-anchor="start" fill="#231f20" stroke="#231f20" stroke-width="0.12" >Central Arabia</text>
<rect x="307.5" y="179.5" width="13" height="57.8" fill="#faf3a0" stroke="#555" stroke-width="0.6"/>
<rect x="307.5" y="237.3" width="13" height="63.2" fill="#faf3a0" stroke="#555" stroke-width="0.6"/>
<rect x="307.5" y="300.5" width="13" height="60" fill="#f9e11e" stroke="#555" stroke-width="0.6"/>
<text transform="translate(317.5 208.4) rotate(-90)" font-size="9.35" text-anchor="middle" fill="#231f20" stroke="#231f20" stroke-width="0.12" >Pleistocene</text>
<text transform="translate(317.5 268.9) rotate(-90)" font-size="9.35" text-anchor="middle" fill="#231f20" stroke="#231f20" stroke-width="0.12" >Pliocene</text>
<text transform="translate(317.5 330.5) rotate(-90)" font-size="9.35" text-anchor="middle" fill="#231f20" stroke="#231f20" stroke-width="0.12" >Miocene</text>
<rect x="327.3" y="177.7" width="9.3" height="17.4" fill="#9b1c3a"/>
<rect x="327.3" y="194.8" width="9.3" height="14.6" fill="#cf3447"/>
<rect x="327.3" y="209.1" width="9.3" height="13.7" fill="#ec6c62"/>
<rect x="327.3" y="222.5" width="9.3" height="13.9" fill="#f6a477"/>
<rect x="327.3" y="236.1" width="9.3" height="13.9" fill="#fbd397"/>
<rect x="327.3" y="249.7" width="9.3" height="14.0" fill="#f6efbf"/>
<rect x="327.3" y="263.4" width="9.3" height="15.1" fill="#d0e7f1"/>
<rect x="327.3" y="278.2" width="9.3" height="13.9" fill="#94d0ec"/>
<rect x="327.3" y="291.8" width="9.3" height="13.8" fill="#3fb1e8"/>
<rect x="327.3" y="305.3" width="9.3" height="14.0" fill="#0c90d6"/>
<rect x="327.3" y="319" width="9.3" height="41.5" fill="#0a58a3"/>
<rect x="327.3" y="177.7" width="9.3" height="182.5" fill="none" stroke="#333" stroke-width="0.5"/>
<line x1="336.6" y1="178.2" x2="342.5" y2="178.2" stroke="#444" stroke-width="0.8"/>
<text transform="translate(346.5 181.3)" font-size="9.1" text-anchor="start" fill="#231f20" stroke="#231f20" stroke-width="0.12" >0</text>
<line x1="336.6" y1="200.8" x2="342.5" y2="200.8" stroke="#444" stroke-width="0.8"/>
<text transform="translate(346.5 203.9)" font-size="9.1" text-anchor="start" fill="#231f20" stroke="#231f20" stroke-width="0.12" >1,000</text>
<line x1="336.6" y1="223.5" x2="342.5" y2="223.5" stroke="#444" stroke-width="0.8"/>
<text transform="translate(346.5 226.6)" font-size="9.1" text-anchor="start" fill="#231f20" stroke="#231f20" stroke-width="0.12" >2,000</text>
<line x1="336.6" y1="246.1" x2="342.5" y2="246.1" stroke="#444" stroke-width="0.8"/>
<text transform="translate(346.5 249.2)" font-size="9.1" text-anchor="start" fill="#231f20" stroke="#231f20" stroke-width="0.12" >3,000</text>
<line x1="336.6" y1="268.8" x2="342.5" y2="268.8" stroke="#444" stroke-width="0.8"/>
<text transform="translate(346.5 271.9)" font-size="9.1" text-anchor="start" fill="#231f20" stroke="#231f20" stroke-width="0.12" >4,000</text>
<line x1="336.6" y1="291.4" x2="342.5" y2="291.4" stroke="#444" stroke-width="0.8"/>
<text transform="translate(346.5 294.6)" font-size="9.1" text-anchor="start" fill="#231f20" stroke="#231f20" stroke-width="0.12" >5,000</text>
<line x1="336.6" y1="314.1" x2="342.5" y2="314.1" stroke="#444" stroke-width="0.8"/>
<text transform="translate(346.5 317.2)" font-size="9.1" text-anchor="start" fill="#231f20" stroke="#231f20" stroke-width="0.12" >6,000</text>
<line x1="336.6" y1="336.8" x2="342.5" y2="336.8" stroke="#444" stroke-width="0.8"/>
<text transform="translate(346.5 339.9)" font-size="9.1" text-anchor="start" fill="#231f20" stroke="#231f20" stroke-width="0.12" >7,000</text>
<line x1="336.6" y1="359.4" x2="342.5" y2="359.4" stroke="#444" stroke-width="0.8"/>
<text transform="translate(346.5 362.5)" font-size="9.1" text-anchor="start" fill="#231f20" stroke="#231f20" stroke-width="0.12" >8,000</text>
<text transform="translate(383.6 269.2) rotate(-90)" font-size="9.35" text-anchor="middle" fill="#231f20" stroke="#231f20" stroke-width="0.12" >Age (ka)</text>
<circle cx="561.5" cy="96.6" r="2.7" fill="#c6c6c6" stroke="#acacac" stroke-width="0.5"/>
<circle cx="571.7" cy="97.0" r="2.7" fill="#c6c6c6" stroke="#acacac" stroke-width="0.5"/>
<circle cx="543.1" cy="112.0" r="2.7" fill="#c6c6c6" stroke="#acacac" stroke-width="0.5"/>
<circle cx="544.9" cy="117.9" r="2.7" fill="#c6c6c6" stroke="#acacac" stroke-width="0.5"/>
<circle cx="554.0" cy="112.7" r="2.7" fill="#c6c6c6" stroke="#acacac" stroke-width="0.5"/>
<circle cx="556.7" cy="115.4" r="2.7" fill="#c6c6c6" stroke="#acacac" stroke-width="0.5"/>
<circle cx="562.9" cy="107.9" r="2.7" fill="#c6c6c6" stroke="#acacac" stroke-width="0.5"/>
<circle cx="566.9" cy="108.6" r="2.7" fill="#c6c6c6" stroke="#acacac" stroke-width="0.5"/>
<circle cx="570.3" cy="107.9" r="2.7" fill="#c6c6c6" stroke="#acacac" stroke-width="0.5"/>
<circle cx="560.8" cy="112.7" r="2.7" fill="#c6c6c6" stroke="#acacac" stroke-width="0.5"/>
<circle cx="564.9" cy="112.7" r="2.7" fill="#c6c6c6" stroke="#acacac" stroke-width="0.5"/>
<circle cx="569.0" cy="112.7" r="2.7" fill="#c6c6c6" stroke="#acacac" stroke-width="0.5"/>
<circle cx="558.8" cy="118.1" r="2.7" fill="#c6c6c6" stroke="#acacac" stroke-width="0.5"/>
<circle cx="563.5" cy="117.4" r="2.7" fill="#c6c6c6" stroke="#acacac" stroke-width="0.5"/>
<circle cx="567.6" cy="116.8" r="2.7" fill="#c6c6c6" stroke="#acacac" stroke-width="0.5"/>
<circle cx="555.4" cy="120.2" r="2.7" fill="#c6c6c6" stroke="#acacac" stroke-width="0.5"/>
<circle cx="560.8" cy="120.9" r="2.7" fill="#c6c6c6" stroke="#acacac" stroke-width="0.5"/>
<circle cx="565.6" cy="120.9" r="2.7" fill="#c6c6c6" stroke="#acacac" stroke-width="0.5"/>
<circle cx="554.0" cy="123.6" r="2.7" fill="#c6c6c6" stroke="#acacac" stroke-width="0.5"/>
<circle cx="558.1" cy="124.3" r="2.7" fill="#c6c6c6" stroke="#acacac" stroke-width="0.5"/>
<circle cx="562.2" cy="123.6" r="2.7" fill="#c6c6c6" stroke="#acacac" stroke-width="0.5"/>
<circle cx="552.0" cy="127.0" r="2.7" fill="#c6c6c6" stroke="#acacac" stroke-width="0.5"/>
<circle cx="556.1" cy="127.7" r="2.7" fill="#c6c6c6" stroke="#acacac" stroke-width="0.5"/>
<circle cx="560.1" cy="127.0" r="2.7" fill="#c6c6c6" stroke="#acacac" stroke-width="0.5"/>
<circle cx="549.3" cy="128.3" r="2.7" fill="#c6c6c6" stroke="#acacac" stroke-width="0.5"/>
<circle cx="549.3" cy="131.7" r="2.7" fill="#c6c6c6" stroke="#acacac" stroke-width="0.5"/>
<circle cx="553.3" cy="131.0" r="2.7" fill="#c6c6c6" stroke="#acacac" stroke-width="0.5"/>
<circle cx="556.7" cy="132.4" r="2.7" fill="#c6c6c6" stroke="#acacac" stroke-width="0.5"/>
<circle cx="552.7" cy="134.5" r="2.7" fill="#c6c6c6" stroke="#acacac" stroke-width="0.5"/>
<circle cx="530.2" cy="129.7" r="2.7" fill="#c6c6c6" stroke="#acacac" stroke-width="0.5"/>
<circle cx="533.6" cy="131.1" r="2.7" fill="#c6c6c6" stroke="#acacac" stroke-width="0.5"/>
<circle cx="537.0" cy="129.7" r="2.7" fill="#c6c6c6" stroke="#acacac" stroke-width="0.5"/>
<circle cx="541.1" cy="132.0" r="2.7" fill="#c6c6c6" stroke="#acacac" stroke-width="0.5"/>
<circle cx="526.1" cy="134.2" r="2.7" fill="#c6c6c6" stroke="#acacac" stroke-width="0.5"/>
<circle cx="534.3" cy="144.0" r="2.7" fill="#c6c6c6" stroke="#acacac" stroke-width="0.5"/>
<circle cx="537.0" cy="146.0" r="2.7" fill="#c6c6c6" stroke="#acacac" stroke-width="0.5"/>
<circle cx="573.7" cy="101.1" r="2.7" fill="#c6c6c6" stroke="#acacac" stroke-width="0.5"/>
<circle cx="572.4" cy="112.7" r="2.7" fill="#c6c6c6" stroke="#acacac" stroke-width="0.5"/>
<circle cx="573.7" cy="115.4" r="2.7" fill="#c6c6c6" stroke="#acacac" stroke-width="0.5"/>
<circle cx="551.0" cy="122.0" r="2.7" fill="#c6c6c6" stroke="#acacac" stroke-width="0.5"/>
<circle cx="547.0" cy="125.0" r="2.7" fill="#c6c6c6" stroke="#acacac" stroke-width="0.5"/>
<circle cx="557.0" cy="111.0" r="2.7" fill="#c6c6c6" stroke="#acacac" stroke-width="0.5"/>
<circle cx="560.0" cy="104.0" r="2.7" fill="#c6c6c6" stroke="#acacac" stroke-width="0.5"/>
<circle cx="575.0" cy="108.0" r="2.7" fill="#c6c6c6" stroke="#acacac" stroke-width="0.5"/>
<circle cx="577.0" cy="104.0" r="2.7" fill="#c6c6c6" stroke="#acacac" stroke-width="0.5"/>
<circle cx="591.1" cy="62.2" r="2.7" fill="#c6c6c6" stroke="#acacac" stroke-width="0.5"/>
<circle cx="596.5" cy="64.3" r="2.7" fill="#c6c6c6" stroke="#acacac" stroke-width="0.5"/>
<circle cx="608.7" cy="65.0" r="2.7" fill="#c6c6c6" stroke="#acacac" stroke-width="0.5"/>
<circle cx="612.1" cy="64.3" r="2.7" fill="#c6c6c6" stroke="#acacac" stroke-width="0.5"/>
<circle cx="587.0" cy="70.4" r="2.7" fill="#c6c6c6" stroke="#acacac" stroke-width="0.5"/>
<circle cx="585.6" cy="75.9" r="2.7" fill="#c6c6c6" stroke="#acacac" stroke-width="0.5"/>
<circle cx="593.1" cy="75.2" r="2.7" fill="#c6c6c6" stroke="#acacac" stroke-width="0.5"/>
<circle cx="596.5" cy="75.2" r="2.7" fill="#c6c6c6" stroke="#acacac" stroke-width="0.5"/>
<circle cx="600.6" cy="73.1" r="2.7" fill="#c6c6c6" stroke="#acacac" stroke-width="0.5"/>
<circle cx="563.8" cy="83.3" r="2.7" fill="#c6c6c6" stroke="#acacac" stroke-width="0.5"/>
<circle cx="575.1" cy="82.9" r="2.7" fill="#c6c6c6" stroke="#acacac" stroke-width="0.5"/>
<circle cx="587.7" cy="83.3" r="2.7" fill="#c6c6c6" stroke="#acacac" stroke-width="0.5"/>
<circle cx="591.7" cy="82.0" r="2.7" fill="#c6c6c6" stroke="#acacac" stroke-width="0.5"/>
<circle cx="591.1" cy="85.4" r="2.7" fill="#c6c6c6" stroke="#acacac" stroke-width="0.5"/>
<circle cx="580.2" cy="86.7" r="2.7" fill="#c6c6c6" stroke="#acacac" stroke-width="0.5"/>
<circle cx="571.3" cy="90.8" r="2.7" fill="#c6c6c6" stroke="#acacac" stroke-width="0.5"/>
<circle cx="579.5" cy="89.5" r="2.7" fill="#c6c6c6" stroke="#acacac" stroke-width="0.5"/>
<circle cx="561.1" cy="96.3" r="2.7" fill="#c6c6c6" stroke="#acacac" stroke-width="0.5"/>
<circle cx="572.0" cy="96.9" r="2.7" fill="#c6c6c6" stroke="#acacac" stroke-width="0.5"/>
<circle cx="574.7" cy="95.6" r="2.7" fill="#c6c6c6" stroke="#acacac" stroke-width="0.5"/>
<circle cx="584.3" cy="88.8" r="2.7" fill="#c6c6c6" stroke="#acacac" stroke-width="0.5"/>
<circle cx="629.3" cy="42.0" r="2.7" fill="#c6c6c6" stroke="#acacac" stroke-width="0.5"/>
<circle cx="620.4" cy="46.1" r="2.7" fill="#c6c6c6" stroke="#acacac" stroke-width="0.5"/>
<circle cx="609.5" cy="65.1" r="2.7" fill="#c6c6c6" stroke="#acacac" stroke-width="0.5"/>
<circle cx="612.2" cy="64.5" r="2.7" fill="#c6c6c6" stroke="#acacac" stroke-width="0.5"/>
<circle cx="600.7" cy="73.3" r="2.7" fill="#c6c6c6" stroke="#acacac" stroke-width="0.5"/>
<circle cx="581.0" cy="93.0" r="2.7" fill="#c6c6c6" stroke="#acacac" stroke-width="0.5"/>
<circle cx="576.0" cy="99.0" r="2.7" fill="#c6c6c6" stroke="#acacac" stroke-width="0.5"/>
<circle cx="566.0" cy="101.0" r="2.7" fill="#c6c6c6" stroke="#acacac" stroke-width="0.5"/>
<circle cx="568.0" cy="104.0" r="2.7" fill="#c6c6c6" stroke="#acacac" stroke-width="0.5"/>
<line x1="495.9" y1="139.4" x2="666.4" y2="12.6" stroke="#1ec77a" stroke-width="1.3" stroke-dasharray="4 2.2 1.2 2.2"/>
<line x1="529.8" y1="160" x2="666.4" y2="12.6" stroke="#1522e6" stroke-width="1.4"/>
<rect x="595.9" y="76.7" width="5.2" height="5.2" fill="none" stroke="#7a2ee0" stroke-width="1.0"/>
<rect x="593.9" y="79.4" width="5.2" height="5.2" fill="none" stroke="#7a2ee0" stroke-width="1.0"/>
<rect x="599.3" y="81.4" width="5.2" height="5.2" fill="none" stroke="#7a2ee0" stroke-width="1.0"/>
<rect x="602.1" y="82.1" width="5.2" height="5.2" fill="none" stroke="#7a2ee0" stroke-width="1.0"/>
<rect x="590.5" y="83.5" width="5.2" height="5.2" fill="none" stroke="#7a2ee0" stroke-width="1.0"/>
<rect x="585.1" y="86.9" width="5.2" height="5.2" fill="none" stroke="#7a2ee0" stroke-width="1.0"/>
<rect x="581.7" y="91.6" width="5.2" height="5.2" fill="none" stroke="#7a2ee0" stroke-width="1.0"/>
<rect x="593.9" y="88.9" width="5.2" height="5.2" fill="none" stroke="#7a2ee0" stroke-width="1.0"/>
<rect x="598.0" y="86.2" width="5.2" height="5.2" fill="none" stroke="#7a2ee0" stroke-width="1.0"/>
<rect x="601.4" y="88.2" width="5.2" height="5.2" fill="none" stroke="#7a2ee0" stroke-width="1.0"/>
<rect x="573.5" y="99.8" width="5.2" height="5.2" fill="none" stroke="#7a2ee0" stroke-width="1.0"/>
<rect x="608.9" y="78.0" width="5.2" height="5.2" fill="none" stroke="#7a2ee0" stroke-width="1.0"/>
<rect x="610.9" y="80.1" width="5.2" height="5.2" fill="none" stroke="#7a2ee0" stroke-width="1.0"/>
<rect x="573.1" y="99.7" width="5.2" height="5.2" fill="none" stroke="#7a2ee0" stroke-width="1.0"/>
<rect x="580.9" y="93.0" width="5.2" height="5.2" fill="none" stroke="#7a2ee0" stroke-width="1.0"/>
<rect x="586.4" y="99.7" width="5.2" height="5.2" fill="none" stroke="#7a2ee0" stroke-width="1.0"/>
<rect x="590.9" y="86.4" width="5.2" height="5.2" fill="none" stroke="#7a2ee0" stroke-width="1.0"/>
<rect x="595.4" y="78.6" width="5.2" height="5.2" fill="none" stroke="#7a2ee0" stroke-width="1.0"/>
<rect x="599.8" y="87.5" width="5.2" height="5.2" fill="none" stroke="#7a2ee0" stroke-width="1.0"/>
<rect x="607.6" y="78.6" width="5.2" height="5.2" fill="none" stroke="#7a2ee0" stroke-width="1.0"/>
<rect x="612.1" y="76.4" width="5.2" height="5.2" fill="none" stroke="#7a2ee0" stroke-width="1.0"/>
<rect x="592.4" y="81.4" width="5.2" height="5.2" fill="none" stroke="#7a2ee0" stroke-width="1.0"/>
<rect x="594.4" y="84.4" width="5.2" height="5.2" fill="none" stroke="#7a2ee0" stroke-width="1.0"/>
<rect x="591.4" y="86.4" width="5.2" height="5.2" fill="none" stroke="#7a2ee0" stroke-width="1.0"/>
<rect x="596.4" y="89.4" width="5.2" height="5.2" fill="none" stroke="#7a2ee0" stroke-width="1.0"/>
<rect x="589.4" y="90.4" width="5.2" height="5.2" fill="none" stroke="#7a2ee0" stroke-width="1.0"/>
<rect x="578.4" y="96.4" width="5.2" height="5.2" fill="none" stroke="#7a2ee0" stroke-width="1.0"/>
<rect x="576.4" y="98.4" width="5.2" height="5.2" fill="none" stroke="#7a2ee0" stroke-width="1.0"/>
<path d="M579.2 90.5L582.5 96.3L575.9 96.3Z" fill="none" stroke="#109a5a" stroke-width="0.9"/>
<path d="M587.7 87.2L591.0 93.0L584.4 93.0Z" fill="none" stroke="#109a5a" stroke-width="0.9"/>
<path d="M606.0 70.5L609.3 76.3L602.7 76.3Z" fill="none" stroke="#109a5a" stroke-width="0.9"/>
<path d="M613.5 64.4L616.8 70.2L610.2 70.2Z" fill="none" stroke="#109a5a" stroke-width="0.9"/>
<line x1="600.3" y1="85.8" x2="612.3" y2="69.8" stroke="#1f8dcf" stroke-width="6" stroke-linecap="round"/>
<path d="M596.8 82.8L598.8 86.3L596.8 89.8L594.8 86.3Z" fill="none" stroke="#1d86cf" stroke-width="0.8"/>
<path d="M598.8 83.0L600.8 86.5L598.8 90.0L596.8 86.5Z" fill="none" stroke="#1d86cf" stroke-width="0.8"/>
<path d="M600.8 83.3L602.8 86.8L600.8 90.3L598.8 86.8Z" fill="none" stroke="#1d86cf" stroke-width="0.8"/>
<path d="M599.2 79.9L601.2 83.4L599.2 86.9L597.2 83.4Z" fill="none" stroke="#1d86cf" stroke-width="0.8"/>
<path d="M601.1 80.2L603.1 83.7L601.1 87.2L599.1 83.7Z" fill="none" stroke="#1d86cf" stroke-width="0.8"/>
<path d="M603.1 80.4L605.1 83.9L603.1 87.4L601.1 83.9Z" fill="none" stroke="#1d86cf" stroke-width="0.8"/>
<path d="M601.5 77.1L603.5 80.6L601.5 84.1L599.5 80.6Z" fill="none" stroke="#1d86cf" stroke-width="0.8"/>
<path d="M603.5 77.3L605.5 80.8L603.5 84.3L601.5 80.8Z" fill="none" stroke="#1d86cf" stroke-width="0.8"/>
<path d="M605.5 77.6L607.5 81.1L605.5 84.6L603.5 81.1Z" fill="none" stroke="#1d86cf" stroke-width="0.8"/>
<path d="M603.9 74.2L605.9 77.7L603.9 81.2L601.9 77.7Z" fill="none" stroke="#1d86cf" stroke-width="0.8"/>
<path d="M605.9 74.5L607.9 78.0L605.9 81.5L603.9 78.0Z" fill="none" stroke="#1d86cf" stroke-width="0.8"/>
<path d="M607.8 74.7L609.8 78.2L607.8 81.7L605.8 78.2Z" fill="none" stroke="#1d86cf" stroke-width="0.8"/>
<path d="M606.2 71.4L608.2 74.9L606.2 78.4L604.2 74.9Z" fill="none" stroke="#1d86cf" stroke-width="0.8"/>
<path d="M608.2 71.6L610.2 75.1L608.2 78.6L606.2 75.1Z" fill="none" stroke="#1d86cf" stroke-width="0.8"/>
<path d="M610.2 71.9L612.2 75.4L610.2 78.9L608.2 75.4Z" fill="none" stroke="#1d86cf" stroke-width="0.8"/>
<path d="M608.6 68.5L610.6 72.0L608.6 75.5L606.6 72.0Z" fill="none" stroke="#1d86cf" stroke-width="0.8"/>
<path d="M610.6 68.8L612.6 72.3L610.6 75.8L608.6 72.3Z" fill="none" stroke="#1d86cf" stroke-width="0.8"/>
<path d="M612.6 69.0L614.6 72.5L612.6 76.0L610.6 72.5Z" fill="none" stroke="#1d86cf" stroke-width="0.8"/>
<path d="M610.9 65.7L612.9 69.2L610.9 72.7L608.9 69.2Z" fill="none" stroke="#1d86cf" stroke-width="0.8"/>
<path d="M612.9 65.9L614.9 69.4L612.9 72.9L610.9 69.4Z" fill="none" stroke="#1d86cf" stroke-width="0.8"/>
<path d="M614.9 66.2L616.9 69.7L614.9 73.2L612.9 69.7Z" fill="none" stroke="#1d86cf" stroke-width="0.8"/>
<path d="M613.3 62.8L615.3 66.3L613.3 69.8L611.3 66.3Z" fill="none" stroke="#1d86cf" stroke-width="0.8"/>
<path d="M603.0 75.5L605.0 79.0L603.0 82.5L601.0 79.0Z" fill="none" stroke="#1d86cf" stroke-width="0.8"/>
<path d="M606.0 73.5L608.0 77.0L606.0 80.5L604.0 77.0Z" fill="none" stroke="#1d86cf" stroke-width="0.8"/>
<path d="M608.0 71.5L610.0 75.0L608.0 78.5L606.0 75.0Z" fill="none" stroke="#1d86cf" stroke-width="0.8"/>
<path d="M600.0 79.5L602.0 83.0L600.0 86.5L598.0 83.0Z" fill="none" stroke="#1d86cf" stroke-width="0.8"/>
<path d="M605.0 78.5L607.0 82.0L605.0 85.5L603.0 82.0Z" fill="none" stroke="#1d86cf" stroke-width="0.8"/>
<path d="M609.0 75.5L611.0 79.0L609.0 82.5L607.0 79.0Z" fill="none" stroke="#1d86cf" stroke-width="0.8"/>
<path d="M611.0 67.5L613.0 71.0L611.0 74.5L609.0 71.0Z" fill="none" stroke="#1d86cf" stroke-width="0.8"/>
<path d="M601.0 72.0L603.0 75.5L601.0 79.0L599.0 75.5Z" fill="none" stroke="#1d86cf" stroke-width="0.8"/>
<path d="M604.0 70.0L606.0 73.5L604.0 77.0L602.0 73.5Z" fill="none" stroke="#1d86cf" stroke-width="0.8"/>
<path d="M653.7 33.3L657.0 36.6L653.7 39.9L650.4 36.6Z" fill="none" stroke="#e61ee6" stroke-width="0.8"/>
<path d="M644.9 35.3L648.2 38.6L644.9 41.9L641.6 38.6Z" fill="none" stroke="#e61ee6" stroke-width="0.8"/>
<path d="M640.8 37.3L644.1 40.6L640.8 43.9L637.5 40.6Z" fill="none" stroke="#e61ee6" stroke-width="0.8"/>
<path d="M639.5 40.7L642.8 44.0L639.5 47.3L636.2 44.0Z" fill="none" stroke="#e61ee6" stroke-width="0.8"/>
<path d="M639.5 42.8L642.8 46.1L639.5 49.4L636.2 46.1Z" fill="none" stroke="#e61ee6" stroke-width="0.8"/>
<path d="M634.7 42.1L638.0 45.4L634.7 48.7L631.4 45.4Z" fill="none" stroke="#e61ee6" stroke-width="0.8"/>
<path d="M632.7 44.1L636.0 47.4L632.7 50.7L629.4 47.4Z" fill="none" stroke="#e61ee6" stroke-width="0.8"/>
<path d="M629.9 45.5L633.2 48.8L629.9 52.1L626.6 48.8Z" fill="none" stroke="#e61ee6" stroke-width="0.8"/>
<path d="M630.6 46.2L633.9 49.5L630.6 52.8L627.3 49.5Z" fill="none" stroke="#e61ee6" stroke-width="0.8"/>
<path d="M625.2 48.9L628.5 52.2L625.2 55.5L621.9 52.2Z" fill="none" stroke="#e61ee6" stroke-width="0.8"/>
<path d="M629.3 54.4L632.6 57.7L629.3 61.0L626.0 57.7Z" fill="none" stroke="#e61ee6" stroke-width="0.8"/>
<path d="M627.9 58.4L631.2 61.7L627.9 65.0L624.6 61.7Z" fill="none" stroke="#e61ee6" stroke-width="0.8"/>
<path d="M625.9 59.8L629.2 63.1L625.9 66.4L622.6 63.1Z" fill="none" stroke="#e61ee6" stroke-width="0.8"/>
<path d="M623.1 61.2L626.4 64.5L623.1 67.8L619.8 64.5Z" fill="none" stroke="#e61ee6" stroke-width="0.8"/>
<path d="M621.1 61.8L624.4 65.1L621.1 68.4L617.8 65.1Z" fill="none" stroke="#e61ee6" stroke-width="0.8"/>
<path d="M619.0 63.2L622.3 66.5L619.0 69.8L615.7 66.5Z" fill="none" stroke="#e61ee6" stroke-width="0.8"/>
<path d="M617.7 65.2L621.0 68.5L617.7 71.8L614.4 68.5Z" fill="none" stroke="#e61ee6" stroke-width="0.8"/>
<path d="M620.4 66.6L623.7 69.9L620.4 73.2L617.1 69.9Z" fill="none" stroke="#e61ee6" stroke-width="0.8"/>
<path d="M615.6 67.3L618.9 70.6L615.6 73.9L612.3 70.6Z" fill="none" stroke="#e61ee6" stroke-width="0.8"/>
<path d="M610.9 66.6L614.2 69.9L610.9 73.2L607.6 69.9Z" fill="none" stroke="#e61ee6" stroke-width="0.8"/>
<path d="M610.8 64.4L614.1 67.7L610.8 71.0L607.5 67.7Z" fill="none" stroke="#e61ee6" stroke-width="0.8"/>
<circle cx="575.2" cy="107.4" r="2.6" fill="none" stroke="#f04848" stroke-width="0.7"/>
<path d="M573.7 105.9L576.7 108.9M573.7 108.9L576.7 105.9" stroke="#f04848" stroke-width="0.6"/>
<circle cx="576.8" cy="110.1" r="2.6" fill="none" stroke="#f04848" stroke-width="0.7"/>
<path d="M575.3 108.6L578.3 111.6M575.3 111.6L578.3 108.6" stroke="#f04848" stroke-width="0.6"/>
<circle cx="578.4" cy="111.7" r="2.6" fill="none" stroke="#f04848" stroke-width="0.7"/>
<path d="M576.9 110.2L579.9 113.2M576.9 113.2L579.9 110.2" stroke="#f04848" stroke-width="0.6"/>
<circle cx="574.1" cy="113.5" r="2.6" fill="none" stroke="#f04848" stroke-width="0.7"/>
<path d="M572.6 112.0L575.6 115.0M572.6 115.0L575.6 112.0" stroke="#f04848" stroke-width="0.6"/>
<circle cx="591.3" cy="94.5" r="2.6" fill="none" stroke="#f04848" stroke-width="0.7"/>
<path d="M589.8 93.0L592.8 96.0M589.8 96.0L592.8 93.0" stroke="#f04848" stroke-width="0.6"/>
<circle cx="593.5" cy="101.2" r="2.6" fill="none" stroke="#f04848" stroke-width="0.7"/>
<path d="M592.0 99.7L595.0 102.7M592.0 102.7L595.0 99.7" stroke="#f04848" stroke-width="0.6"/>
<circle cx="602.0" cy="97.9" r="2.6" fill="none" stroke="#f04848" stroke-width="0.7"/>
<path d="M600.5 96.4L603.5 99.4M600.5 99.4L603.5 96.4" stroke="#f04848" stroke-width="0.6"/>
<circle cx="593.8" cy="94.9" r="2.6" fill="none" stroke="#f04848" stroke-width="0.7"/>
<path d="M592.3 93.4L595.3 96.4M592.3 96.4L595.3 93.4" stroke="#f04848" stroke-width="0.6"/>
<circle cx="601.9" cy="97.6" r="2.6" fill="none" stroke="#f04848" stroke-width="0.7"/>
<path d="M600.4 96.1L603.4 99.1M600.4 99.1L603.4 96.1" stroke="#f04848" stroke-width="0.6"/>
<circle cx="591.7" cy="101.7" r="2.6" fill="none" stroke="#f04848" stroke-width="0.7"/>
<path d="M590.2 100.2L593.2 103.2M590.2 103.2L593.2 100.2" stroke="#f04848" stroke-width="0.6"/>
<path d="M579.4 107.9H585.4M580.6 105.5L584.2 110.3M580.6 110.3L584.2 105.5" stroke="#2a3ee8" stroke-width="0.8"/>
<path d="M586.0 99.0H592.0M587.2 96.6L590.8 101.4M587.2 101.4L590.8 96.6" stroke="#2a3ee8" stroke-width="0.8"/>
<path d="M586.7 98.3H592.7M587.9 95.9L591.5 100.7M587.9 100.7L591.5 95.9" stroke="#2a3ee8" stroke-width="0.8"/>
<path d="M622.7 84.6H628.7M623.9 82.2L627.5 87.0M623.9 87.0L627.5 82.2" stroke="#2a3ee8" stroke-width="0.8"/>
<path d="M493.7 7.4V163.9H666.6" fill="none" stroke="#8a8a8a" stroke-width="1"/>
<line x1="487" y1="7.8" x2="493.7" y2="7.8" stroke="#8a8a8a" stroke-width="1"/>
<text transform="translate(483.8 10.9)" font-size="9.1" text-anchor="end" fill="#231f20" stroke="#231f20" stroke-width="0.12" >40</text>
<line x1="487" y1="28.1" x2="493.7" y2="28.1" stroke="#8a8a8a" stroke-width="1"/>
<text transform="translate(483.8 31.2)" font-size="9.1" text-anchor="end" fill="#231f20" stroke="#231f20" stroke-width="0.12" >20</text>
<line x1="487" y1="48.5" x2="493.7" y2="48.5" stroke="#8a8a8a" stroke-width="1"/>
<text transform="translate(483.8 51.6)" font-size="9.1" text-anchor="end" fill="#231f20" stroke="#231f20" stroke-width="0.12" >0</text>
<line x1="487" y1="68.9" x2="493.7" y2="68.9" stroke="#8a8a8a" stroke-width="1"/>
<text transform="translate(483.8 72.0)" font-size="9.1" text-anchor="end" fill="#231f20" stroke="#231f20" stroke-width="0.12" >−20</text>
<line x1="487" y1="89.2" x2="493.7" y2="89.2" stroke="#8a8a8a" stroke-width="1"/>
<text transform="translate(483.8 92.3)" font-size="9.1" text-anchor="end" fill="#231f20" stroke="#231f20" stroke-width="0.12" >−40</text>
<line x1="487" y1="109.6" x2="493.7" y2="109.6" stroke="#8a8a8a" stroke-width="1"/>
<text transform="translate(483.8 112.7)" font-size="9.1" text-anchor="end" fill="#231f20" stroke="#231f20" stroke-width="0.12" >−60</text>
<line x1="487" y1="129.9" x2="493.7" y2="129.9" stroke="#8a8a8a" stroke-width="1"/>
<text transform="translate(483.8 133.0)" font-size="9.1" text-anchor="end" fill="#231f20" stroke="#231f20" stroke-width="0.12" >−80</text>
<line x1="487" y1="150.3" x2="493.7" y2="150.3" stroke="#8a8a8a" stroke-width="1"/>
<text transform="translate(483.8 153.4)" font-size="9.1" text-anchor="end" fill="#231f20" stroke="#231f20" stroke-width="0.12" >−100</text>
<line x1="496.4" y1="163.9" x2="496.4" y2="170" stroke="#8a8a8a" stroke-width="1"/>
<text transform="translate(496.4 179.8)" font-size="9.1" text-anchor="middle" fill="#231f20" stroke="#231f20" stroke-width="0.12" >−20</text>
<line x1="530.4" y1="163.9" x2="530.4" y2="170" stroke="#8a8a8a" stroke-width="1"/>
<text transform="translate(530.4 179.8)" font-size="9.1" text-anchor="middle" fill="#231f20" stroke="#231f20" stroke-width="0.12" >−15</text>
<line x1="564.4" y1="163.9" x2="564.4" y2="170" stroke="#8a8a8a" stroke-width="1"/>
<text transform="translate(564.4 179.8)" font-size="9.1" text-anchor="middle" fill="#231f20" stroke="#231f20" stroke-width="0.12" >−10</text>
<line x1="598.4" y1="163.9" x2="598.4" y2="170" stroke="#8a8a8a" stroke-width="1"/>
<text transform="translate(598.4 179.8)" font-size="9.1" text-anchor="middle" fill="#231f20" stroke="#231f20" stroke-width="0.12" >−5</text>
<line x1="632.4" y1="163.9" x2="632.4" y2="170" stroke="#8a8a8a" stroke-width="1"/>
<text transform="translate(632.4 179.8)" font-size="9.1" text-anchor="middle" fill="#231f20" stroke="#231f20" stroke-width="0.12" >0</text>
<line x1="666.4" y1="163.9" x2="666.4" y2="170" stroke="#8a8a8a" stroke-width="1"/>
<text transform="translate(666.4 179.8)" font-size="9.1" text-anchor="middle" fill="#231f20" stroke="#231f20" stroke-width="0.12" >5</text>
<text transform="translate(579.0 194.4)" font-size="9.35" text-anchor="middle" fill="#231f20" stroke="#231f20" stroke-width="0.12" >δ<tspan font-size="6" dy="-3.5">18</tspan><tspan dy="3.5">O (‰ VSMOW)</tspan></text>
<text transform="translate(458.5 85.0) rotate(-90)" font-size="9.35" text-anchor="middle" fill="#231f20" stroke="#231f20" stroke-width="0.12" >δ<tspan font-size="6" dy="-3.5">2</tspan><tspan dy="3.5">H (‰ VSMOW)</tspan></text>
<text transform="translate(446.0 7.2)" font-size="10.5" text-anchor="start" fill="#000" stroke="#000" stroke-width="0.12" font-weight="bold">b</text>
<text transform="translate(503.2 130.2) rotate(-36)" font-size="9.35" text-anchor="start" fill="#231f20" stroke="#231f20" stroke-width="0.12" >N-LMWL</text>
<text transform="translate(546.5 158.5) rotate(-43)" font-size="9.35" text-anchor="start" fill="#231f20" stroke="#231f20" stroke-width="0.12" >S-LMWL</text>
<text transform="translate(498.9 12.4)" font-size="9.35" text-anchor="start" fill="#231f20" stroke="#231f20" stroke-width="0.12" >Central Arabia</text>
<circle cx="506.1" cy="19.1" r="2.8" fill="#c6c6c6"/>
<text transform="translate(517.2 21.9)" font-size="9.35" text-anchor="start" fill="#231f20" stroke="#231f20" stroke-width="0.12" >This study</text>
<text transform="translate(498.9 31.8)" font-size="9.35" text-anchor="start" fill="#231f20" stroke="#231f20" stroke-width="0.12" >Southern Arabia</text>
<text transform="translate(498.9 41.6)" font-size="9.35" text-anchor="start" fill="#231f20" stroke="#231f20" stroke-width="0.12" >Hoti Cave:</text>
<path d="M506.1 45.6L509.5 49.0L506.1 52.4L502.7 49.0Z" fill="none" stroke="#e61ee6" stroke-width="0.8"/>
<text transform="translate(514.8 52.5)" font-size="9.35" text-anchor="start" fill="#231f20" stroke="#231f20" stroke-width="0.12" >Holocene</text>
<rect x="503.5" y="56.3" width="5.2" height="5.2" fill="none" stroke="#7a2ee0" stroke-width="0.8"/>
<text transform="translate(514.8 62.0)" font-size="9.35" text-anchor="start" fill="#231f20" stroke="#231f20" stroke-width="0.12" >MIS 5</text>
<path d="M506.1 65.2L509.4 71.0L502.8 71.0Z" fill="none" stroke="#109a5a" stroke-width="0.9"/>
<text transform="translate(514.8 71.9)" font-size="9.35" text-anchor="start" fill="#231f20" stroke="#231f20" stroke-width="0.12" >MIS 7</text>
<path d="M506.1 74.9L508.1 78.7L506.1 82.5L504.1 78.7Z" fill="none" stroke="#1d86cf" stroke-width="0.8"/>
<text transform="translate(514.8 82.2)" font-size="9.35" text-anchor="start" fill="#231f20" stroke="#231f20" stroke-width="0.12" >MIS 9</text>
<text transform="translate(609.9 130.0)" font-size="9.35" text-anchor="start" fill="#231f20" stroke="#231f20" stroke-width="0.12" >Southern Arabia</text>
<text transform="translate(609.9 139.6)" font-size="9.35" text-anchor="start" fill="#231f20" stroke="#231f20" stroke-width="0.12" >Mukalla Cave:</text>
<circle cx="619.1" cy="146.8" r="2.6" fill="none" stroke="#f04848" stroke-width="0.7"/>
<path d="M617.6 145.3L620.6 148.3M617.6 148.3L620.6 145.3" stroke="#f04848" stroke-width="0.6"/>
<text transform="translate(626.2 150.4)" font-size="9.35" text-anchor="start" fill="#231f20" stroke="#231f20" stroke-width="0.12" >MIS 5</text>
<path d="M616.1 157.2H622.1M617.3 154.8L620.9 159.6M617.3 159.6L620.9 154.8" stroke="#2a3ee8" stroke-width="0.8"/>
<text transform="translate(626.2 160.5)" font-size="9.35" text-anchor="start" fill="#231f20" stroke="#231f20" stroke-width="0.12" >MIS7</text>
<text transform="translate(446.0 210.0)" font-size="10.5" text-anchor="start" fill="#000" stroke="#000" stroke-width="0.12" font-weight="bold">c</text>
<path d="M498.1 229.4L499.2 231.0L498.1 232.6L497.0 231.0Z" fill="none" stroke="#ff2020" stroke-width="0.7"/>
<path d="M498.1 231.5L499.2 233.1L498.1 234.7L497.0 233.1Z" fill="none" stroke="#ff2020" stroke-width="0.7"/>
<path d="M498.1 233.6L499.2 235.2L498.1 236.8L497.0 235.2Z" fill="none" stroke="#ff2020" stroke-width="0.7"/>
<path d="M498.1 235.7L499.2 237.3L498.1 238.9L497.0 237.3Z" fill="none" stroke="#ff2020" stroke-width="0.7"/>
<path d="M498.1 237.8L499.2 239.4L498.1 241.0L497.0 239.4Z" fill="none" stroke="#ff2020" stroke-width="0.7"/>
<path d="M498.1 239.9L499.2 241.5L498.1 243.1L497.0 241.5Z" fill="none" stroke="#ff2020" stroke-width="0.7"/>
<path d="M498.1 242.0L499.2 243.6L498.1 245.2L497.0 243.6Z" fill="none" stroke="#ff2020" stroke-width="0.7"/>
<path d="M498.1 244.1L499.2 245.7L498.1 247.3L497.0 245.7Z" fill="none" stroke="#ff2020" stroke-width="0.7"/>
<path d="M498.1 246.2L499.2 247.8L498.1 249.4L497.0 247.8Z" fill="none" stroke="#ff2020" stroke-width="0.7"/>
<path d="M498.1 248.3L499.2 249.9L498.1 251.5L497.0 249.9Z" fill="none" stroke="#ff2020" stroke-width="0.7"/>
<path d="M498.1 250.4L499.2 252.0L498.1 253.6L497.0 252.0Z" fill="none" stroke="#ff2020" stroke-width="0.7"/>
<path d="M498.1 252.5L499.2 254.1L498.1 255.7L497.0 254.1Z" fill="none" stroke="#ff2020" stroke-width="0.7"/>
<path d="M498.1 254.6L499.2 256.2L498.1 257.8L497.0 256.2Z" fill="none" stroke="#ff2020" stroke-width="0.7"/>
<path d="M498.1 256.7L499.2 258.3L498.1 259.9L497.0 258.3Z" fill="none" stroke="#ff2020" stroke-width="0.7"/>
<path d="M498.1 258.8L499.2 260.4L498.1 262.0L497.0 260.4Z" fill="none" stroke="#ff2020" stroke-width="0.7"/>
<path d="M498.1 260.9L499.2 262.5L498.1 264.1L497.0 262.5Z" fill="none" stroke="#ff2020" stroke-width="0.7"/>
<path d="M498.1 263.0L499.2 264.6L498.1 266.2L497.0 264.6Z" fill="none" stroke="#ff2020" stroke-width="0.7"/>
<path d="M498.1 265.1L499.2 266.7L498.1 268.3L497.0 266.7Z" fill="none" stroke="#ff2020" stroke-width="0.7"/>
<path d="M498.1 267.2L499.2 268.8L498.1 270.4L497.0 268.8Z" fill="none" stroke="#ff2020" stroke-width="0.7"/>
<path d="M498.1 269.3L499.2 270.9L498.1 272.5L497.0 270.9Z" fill="none" stroke="#ff2020" stroke-width="0.7"/>
<path d="M498.1 271.4L499.2 273.0L498.1 274.6L497.0 273.0Z" fill="none" stroke="#ff2020" stroke-width="0.7"/>
<path d="M498.1 273.5L499.2 275.1L498.1 276.7L497.0 275.1Z" fill="none" stroke="#ff2020" stroke-width="0.7"/>
<path d="M498.1 275.6L499.2 277.2L498.1 278.8L497.0 277.2Z" fill="none" stroke="#ff2020" stroke-width="0.7"/>
<path d="M498.1 277.7L499.2 279.3L498.1 280.9L497.0 279.3Z" fill="none" stroke="#ff2020" stroke-width="0.7"/>
<path d="M498.1 279.8L499.2 281.4L498.1 283.0L497.0 281.4Z" fill="none" stroke="#ff2020" stroke-width="0.7"/>
<path d="M498.1 281.9L499.2 283.5L498.1 285.1L497.0 283.5Z" fill="none" stroke="#ff2020" stroke-width="0.7"/>
<path d="M498.1 284.0L499.2 285.6L498.1 287.2L497.0 285.6Z" fill="none" stroke="#ff2020" stroke-width="0.7"/>
<path d="M498.1 286.1L499.2 287.7L498.1 289.3L497.0 287.7Z" fill="none" stroke="#ff2020" stroke-width="0.7"/>
<path d="M498.1 288.2L499.2 289.8L498.1 291.4L497.0 289.8Z" fill="none" stroke="#ff2020" stroke-width="0.7"/>
<path d="M498.1 290.3L499.2 291.9L498.1 293.5L497.0 291.9Z" fill="none" stroke="#ff2020" stroke-width="0.7"/>
<path d="M496.7 236.0H499.5M498.1 234.6V237.4" stroke="#ff2020" stroke-width="0.7" fill="none"/>
<path d="M496.7 240.0H499.5M498.1 238.6V241.4" stroke="#ff2020" stroke-width="0.7" fill="none"/>
<path d="M496.7 244.0H499.5M498.1 242.6V245.4" stroke="#ff2020" stroke-width="0.7" fill="none"/>
<path d="M496.7 252.0H499.5M498.1 250.6V253.4" stroke="#ff2020" stroke-width="0.7" fill="none"/>
<path d="M496.7 258.0H499.5M498.1 256.6V259.4" stroke="#ff2020" stroke-width="0.7" fill="none"/>
<path d="M496.7 266.0H499.5M498.1 264.6V267.4" stroke="#ff2020" stroke-width="0.7" fill="none"/>
<path d="M496.7 270.0H499.5M498.1 268.6V271.4" stroke="#ff2020" stroke-width="0.7" fill="none"/>
<path d="M496.7 280.0H499.5M498.1 278.6V281.4" stroke="#ff2020" stroke-width="0.7" fill="none"/>
<path d="M496.7 286.0H499.5M498.1 284.6V287.4" stroke="#ff2020" stroke-width="0.7" fill="none"/>
<circle cx="498.1" cy="246.5" r="1.4" fill="none" stroke="#f5a030" stroke-width="0.7"/>
<circle cx="498.1" cy="249.5" r="1.4" fill="none" stroke="#f5a030" stroke-width="0.7"/>
<circle cx="498.1" cy="274.5" r="1.4" fill="none" stroke="#f5a030" stroke-width="0.7"/>
<circle cx="498.1" cy="277.0" r="1.4" fill="none" stroke="#f5a030" stroke-width="0.7"/>
<path d="M496.5 210.1H499.7M498.1 208.5V211.7" stroke="#f08a20" stroke-width="0.7" fill="none"/>
<circle cx="498.1" cy="210.1" r="1.6" fill="none" stroke="#f0a030" stroke-width="0.6"/>
<path d="M498.1 216.4L499.4 218.6L498.1 220.8L496.8 218.6Z" fill="none" stroke="#f02a2a" stroke-width="0.6"/>
<rect x="496.3" y="225.7" width="3.6" height="3.6" fill="none" stroke="#f0a050" stroke-width="0.7"/>
<circle cx="497.4" cy="310.7" r="1.8" fill="none" stroke="#f5b040" stroke-width="0.7"/>
<circle cx="502.5" cy="271.5" r="4.0" fill="#961a3a" stroke="#4b0e1c" stroke-width="0.75"/>
<circle cx="512.5" cy="275.3" r="4.0" fill="#961a3a" stroke="#4b0e1c" stroke-width="0.75"/>
<circle cx="502.5" cy="280.9" r="4.0" fill="#961a3a" stroke="#4b0e1c" stroke-width="0.75"/>
<circle cx="531.1" cy="290.9" r="4.0" fill="#cd3a4b" stroke="#6b1722" stroke-width="0.75"/>
<circle cx="502.7" cy="298.7" r="4.0" fill="#961a3a" stroke="#4b0e1c" stroke-width="0.75"/>
<circle cx="502.7" cy="303.6" r="4.0" fill="#961a3a" stroke="#4b0e1c" stroke-width="0.75"/>
<circle cx="506.8" cy="302.4" r="4.0" fill="#961a3a" stroke="#4b0e1c" stroke-width="0.75"/>
<circle cx="502.7" cy="307.3" r="4.0" fill="#961a3a" stroke="#4b0e1c" stroke-width="0.75"/>
<circle cx="502.7" cy="312.9" r="4.0" fill="#961a3a" stroke="#4b0e1c" stroke-width="0.75"/>
<circle cx="502.7" cy="316.0" r="4.0" fill="#961a3a" stroke="#4b0e1c" stroke-width="0.75"/>
<circle cx="506.8" cy="322.8" r="4.0" fill="#961a3a" stroke="#4b0e1c" stroke-width="0.75"/>
<circle cx="523.2" cy="308.6" r="4.0" fill="#cd3a4b" stroke="#6b1722" stroke-width="0.75"/>
<circle cx="530.9" cy="311.0" r="4.0" fill="#cd3a4b" stroke="#6b1722" stroke-width="0.75"/>
<circle cx="523.2" cy="316.6" r="4.0" fill="#cd3a4b" stroke="#6b1722" stroke-width="0.75"/>
<circle cx="523.2" cy="319.7" r="4.0" fill="#cd3a4b" stroke="#6b1722" stroke-width="0.75"/>
<circle cx="523.2" cy="322.8" r="4.0" fill="#cd3a4b" stroke="#6b1722" stroke-width="0.75"/>
<circle cx="523.2" cy="325.9" r="4.0" fill="#cd3a4b" stroke="#6b1722" stroke-width="0.75"/>
<circle cx="523.2" cy="329.6" r="4.0" fill="#cd3a4b" stroke="#6b1722" stroke-width="0.75"/>
<circle cx="530.9" cy="332.7" r="4.0" fill="#cd3a4b" stroke="#6b1722" stroke-width="0.75"/>
<circle cx="523.2" cy="332.7" r="4.0" fill="#cd3a4b" stroke="#6b1722" stroke-width="0.75"/>
<circle cx="523.2" cy="336.4" r="4.0" fill="#cd3a4b" stroke="#6b1722" stroke-width="0.75"/>
<circle cx="523.2" cy="339.5" r="4.0" fill="#cd3a4b" stroke="#6b1722" stroke-width="0.75"/>
<circle cx="521.6" cy="342.5" r="4.0" fill="#cd3a4b" stroke="#6b1722" stroke-width="0.75"/>
<circle cx="531.1" cy="352.4" r="4.0" fill="#cd3a4b" stroke="#6b1722" stroke-width="0.75"/>
<circle cx="524.0" cy="359.3" r="4.0" fill="#cd3a4b" stroke="#6b1722" stroke-width="0.75"/>
<circle cx="524.0" cy="362.9" r="4.0" fill="#cd3a4b" stroke="#6b1722" stroke-width="0.75"/>
<circle cx="550.9" cy="335.5" r="4.0" fill="#f2a07a" stroke="#8a5535" stroke-width="0.75"/>
<circle cx="574.8" cy="307.5" r="4.0" fill="#f8cc92" stroke="#8d6c42" stroke-width="0.75"/>
<circle cx="574.8" cy="310.9" r="4.0" fill="#f8cc92" stroke="#8d6c42" stroke-width="0.75"/>
<circle cx="574.8" cy="314.3" r="4.0" fill="#f8cc92" stroke="#8d6c42" stroke-width="0.75"/>
<circle cx="574.8" cy="317.7" r="4.0" fill="#f8cc92" stroke="#8d6c42" stroke-width="0.75"/>
<circle cx="574.8" cy="321.1" r="4.0" fill="#f8cc92" stroke="#8d6c42" stroke-width="0.75"/>
<circle cx="574.8" cy="324.5" r="4.0" fill="#f8cc92" stroke="#8d6c42" stroke-width="0.75"/>
<circle cx="574.8" cy="327.9" r="4.0" fill="#f8cc92" stroke="#8d6c42" stroke-width="0.75"/>
<circle cx="574.8" cy="331.3" r="4.0" fill="#f8cc92" stroke="#8d6c42" stroke-width="0.75"/>
<circle cx="574.8" cy="334.7" r="4.0" fill="#f8cc92" stroke="#8d6c42" stroke-width="0.75"/>
<circle cx="574.8" cy="338.1" r="4.0" fill="#f8cc92" stroke="#8d6c42" stroke-width="0.75"/>
<circle cx="574.8" cy="341.5" r="4.0" fill="#f8cc92" stroke="#8d6c42" stroke-width="0.75"/>
<circle cx="574.8" cy="359.7" r="4.0" fill="#f8cc92" stroke="#8d6c42" stroke-width="0.75"/>
<circle cx="590.0" cy="336.0" r="4.0" fill="#f4ecbd" stroke="#7f7852" stroke-width="0.75"/>
<circle cx="590.0" cy="337.5" r="4.0" fill="#f4ecbd" stroke="#7f7852" stroke-width="0.75"/>
<circle cx="597.1" cy="354.4" r="4.0" fill="#f4ecbd" stroke="#7f7852" stroke-width="0.75"/>
<circle cx="597.1" cy="367.2" r="4.0" fill="#f4ecbd" stroke="#7f7852" stroke-width="0.75"/>
<circle cx="651.5" cy="327.6" r="4.0" fill="#4db3e6" stroke="#2a6c90" stroke-width="0.75"/>
<circle cx="651.5" cy="331.6" r="4.0" fill="#4db3e6" stroke="#2a6c90" stroke-width="0.75"/>
<circle cx="651.5" cy="335.5" r="4.0" fill="#4db3e6" stroke="#2a6c90" stroke-width="0.75"/>
<circle cx="656.9" cy="340.5" r="4.0" fill="#1b8fd2" stroke="#0b4570" stroke-width="0.75"/>
<circle cx="656.9" cy="346.4" r="4.0" fill="#1b8fd2" stroke="#0b4570" stroke-width="0.75"/>
<circle cx="662.4" cy="323.7" r="4.0" fill="#1b8fd2" stroke="#0b4570" stroke-width="0.75"/>
<circle cx="662.4" cy="326.6" r="4.0" fill="#1b8fd2" stroke="#0b4570" stroke-width="0.75"/>
<circle cx="662.4" cy="330.6" r="4.0" fill="#1b8fd2" stroke="#0b4570" stroke-width="0.75"/>
<circle cx="662.4" cy="334.6" r="4.0" fill="#1b8fd2" stroke="#0b4570" stroke-width="0.75"/>
<circle cx="662.4" cy="338.5" r="4.0" fill="#1b8fd2" stroke="#0b4570" stroke-width="0.75"/>
<circle cx="662.4" cy="342.5" r="4.0" fill="#1b8fd2" stroke="#0b4570" stroke-width="0.75"/>
<circle cx="662.4" cy="357.3" r="4.0" fill="#1b8fd2" stroke="#0b4570" stroke-width="0.75"/>
<line x1="491.7" y1="272" x2="504.3" y2="272" stroke="#ee2a2a" stroke-width="1.5"/>
<line x1="492.3" y1="319.3" x2="525.5" y2="319.3" stroke="#a3162b" stroke-width="1.5"/>
<line x1="523.2" y1="330.6" x2="557.2" y2="330.6" stroke="#f07070" stroke-width="1.2"/>
<line x1="567.8" y1="330.6" x2="602.5" y2="330.6" stroke="#f0a020" stroke-width="1.2"/>
<line x1="643.2" y1="337.9" x2="677.3" y2="337.9" stroke="#23a3e6" stroke-width="1.2"/>
<text transform="translate(503.1 264.1)" font-size="8.2" text-anchor="start" fill="#ee3b36" stroke="#ee3b36" stroke-width="0.12" >−0.4‰</text>
<text transform="translate(502.1 294.3)" font-size="8.2" text-anchor="start" fill="#a3162b" stroke="#a3162b" stroke-width="0.12" >−5.1‰</text>
<text transform="translate(532.5 327.2)" font-size="8.2" text-anchor="start" fill="#f37a78" stroke="#f37a78" stroke-width="0.12" >−10.0‰</text>
<text transform="translate(582.1 328.6)" font-size="8.2" text-anchor="start" fill="#f0a020" stroke="#f0a020" stroke-width="0.12" >−9.5‰</text>
<text transform="translate(616.9 335.9)" font-size="8.2" text-anchor="start" fill="#2aa5e6" stroke="#2aa5e6" stroke-width="0.12" >−10.7‰</text>
<path d="M493.5 210.2V372.5H667.7" fill="none" stroke="#8a8a8a" stroke-width="1"/>
<line x1="487.2" y1="237.6" x2="493.5" y2="237.6" stroke="#8a8a8a" stroke-width="1"/>
<text transform="translate(483.6 240.7)" font-size="9.1" text-anchor="end" fill="#231f20" stroke="#231f20" stroke-width="0.12" >5</text>
<line x1="487.2" y1="269.3" x2="493.5" y2="269.3" stroke="#8a8a8a" stroke-width="1"/>
<text transform="translate(483.6 272.4)" font-size="9.1" text-anchor="end" fill="#231f20" stroke="#231f20" stroke-width="0.12" >0</text>
<line x1="487.2" y1="301.0" x2="493.5" y2="301.0" stroke="#8a8a8a" stroke-width="1"/>
<text transform="translate(483.6 304.1)" font-size="9.1" text-anchor="end" fill="#231f20" stroke="#231f20" stroke-width="0.12" >−5</text>
<line x1="487.2" y1="332.7" x2="493.5" y2="332.7" stroke="#8a8a8a" stroke-width="1"/>
<text transform="translate(483.6 335.8)" font-size="9.1" text-anchor="end" fill="#231f20" stroke="#231f20" stroke-width="0.12" >−10</text>
<line x1="487.2" y1="364.4" x2="493.5" y2="364.4" stroke="#8a8a8a" stroke-width="1"/>
<text transform="translate(483.6 367.5)" font-size="9.1" text-anchor="end" fill="#231f20" stroke="#231f20" stroke-width="0.12" >−15</text>
<line x1="498.0" y1="372.5" x2="498.0" y2="378.5" stroke="#8a8a8a" stroke-width="1"/>
<text transform="translate(498.0 389.4)" font-size="9.1" text-anchor="middle" fill="#231f20" stroke="#231f20" stroke-width="0.12" >0</text>
<line x1="522.2" y1="372.5" x2="522.2" y2="378.5" stroke="#8a8a8a" stroke-width="1"/>
<line x1="546.4" y1="372.5" x2="546.4" y2="378.5" stroke="#8a8a8a" stroke-width="1"/>
<text transform="translate(546.4 389.4)" font-size="9.1" text-anchor="middle" fill="#231f20" stroke="#231f20" stroke-width="0.12" >2,000</text>
<line x1="570.6" y1="372.5" x2="570.6" y2="378.5" stroke="#8a8a8a" stroke-width="1"/>
<line x1="594.8" y1="372.5" x2="594.8" y2="378.5" stroke="#8a8a8a" stroke-width="1"/>
<text transform="translate(594.8 389.4)" font-size="9.1" text-anchor="middle" fill="#231f20" stroke="#231f20" stroke-width="0.12" >4,000</text>
<line x1="619.0" y1="372.5" x2="619.0" y2="378.5" stroke="#8a8a8a" stroke-width="1"/>
<line x1="643.2" y1="372.5" x2="643.2" y2="378.5" stroke="#8a8a8a" stroke-width="1"/>
<text transform="translate(643.2 389.4)" font-size="9.1" text-anchor="middle" fill="#231f20" stroke="#231f20" stroke-width="0.12" >6,000</text>
<line x1="667.4" y1="372.5" x2="667.4" y2="378.5" stroke="#8a8a8a" stroke-width="1"/>
<text transform="translate(580.3 402.3)" font-size="9.35" text-anchor="middle" fill="#231f20" stroke="#231f20" stroke-width="0.12" >Age (ka)</text>
<text transform="translate(458.5 290.0) rotate(-90)" font-size="9.35" text-anchor="middle" fill="#231f20" stroke="#231f20" stroke-width="0.12" >δ<tspan font-size="6" dy="-3.5">18</tspan><tspan dy="3.5">O (‰ VSMOW)</tspan></text>
<text transform="translate(602.9 221.4)" font-size="9.35" text-anchor="start" fill="#231f20" stroke="#231f20" stroke-width="0.12" >Riyadh precipitation</text>
<path d="M609.4 230.3H615.4M612.4 227.3V233.3" stroke="#ee2a2e" stroke-width="0.8" fill="none"/>
<text transform="translate(620.1 232.6)" font-size="9.35" text-anchor="start" fill="#231f20" stroke="#231f20" stroke-width="0.12" >RS</text>
<path d="M646.5 226.9L649.7 232.5L643.3 232.5Z" fill="none" stroke="#ee2a2e" stroke-width="0.8"/>
<text transform="translate(654.7 232.6)" font-size="9.35" text-anchor="start" fill="#231f20" stroke="#231f20" stroke-width="0.12" >MS</text>
<path d="M612.4 236.1L614.6 239.7L612.4 243.3L610.2 239.7Z" fill="none" stroke="#ee2a2e" stroke-width="0.8"/>
<text transform="translate(620.1 242.6)" font-size="9.35" text-anchor="start" fill="#231f20" stroke="#231f20" stroke-width="0.12" >Unknown</text>
<rect x="609.8" y="247.7" width="5.2" height="5.2" fill="none" stroke="#f4a080" stroke-width="0.8"/>
<text transform="translate(620.1 253.4)" font-size="9.35" text-anchor="start" fill="#231f20" stroke="#231f20" stroke-width="0.12" >AS</text>
<circle cx="646.5" cy="250.3" r="2.7" fill="none" stroke="#f5c070" stroke-width="0.8"/>
<text transform="translate(654.7 253.4)" font-size="9.35" text-anchor="start" fill="#231f20" stroke="#231f20" stroke-width="0.12" >AG</text>
<text transform="translate(602.9 272.6)" font-size="9.35" text-anchor="start" fill="#231f20" stroke="#231f20" stroke-width="0.12" >Fossil water</text>
<circle cx="612.4" cy="279" r="3" fill="#111"/>
<text transform="translate(620.1 282.5)" font-size="9.35" text-anchor="start" fill="#231f20" stroke="#231f20" stroke-width="0.12" >Central Arabia</text>
</svg></body></html>
